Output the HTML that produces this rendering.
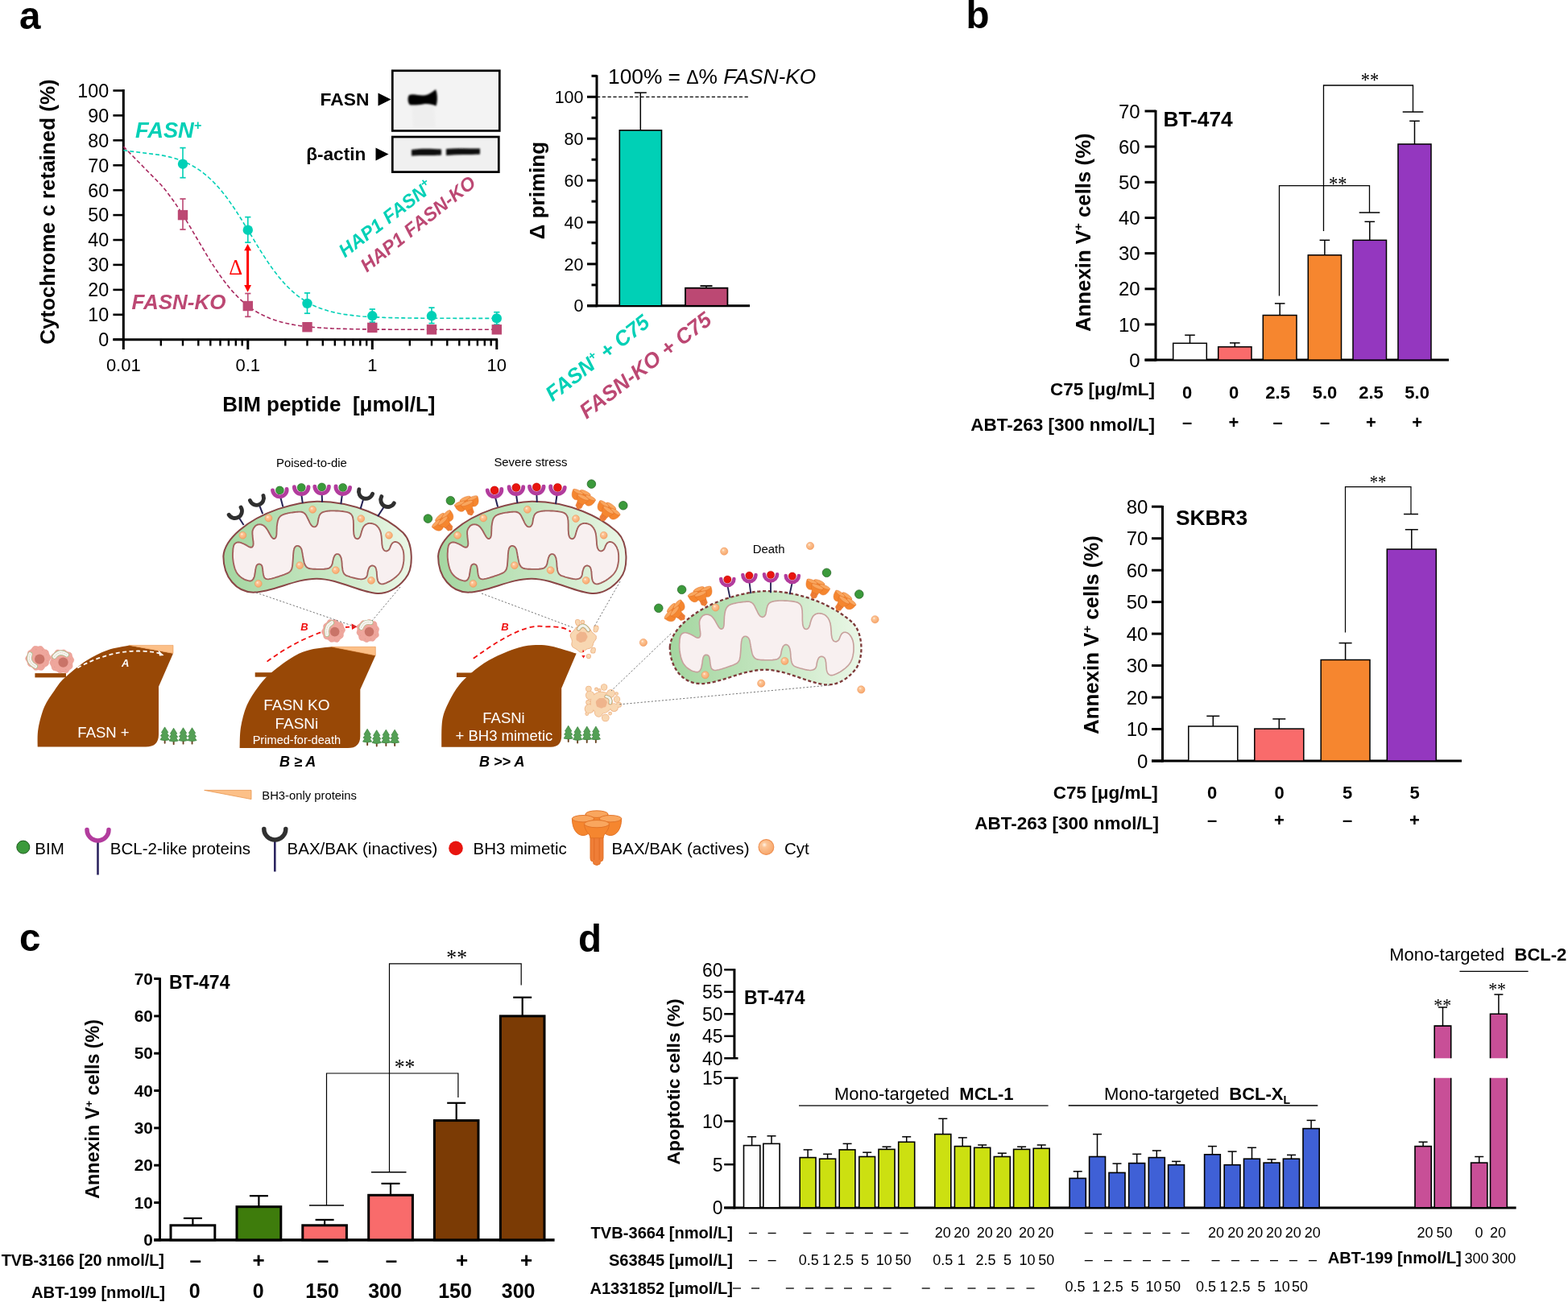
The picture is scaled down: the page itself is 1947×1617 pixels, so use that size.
<!DOCTYPE html>
<html><head><meta charset="utf-8"><title>Figure</title>
<style>html,body{margin:0;padding:0;background:#fff;}svg{display:block;}</style></head>
<body><svg width="1947" height="1617" viewBox="0 0 1947 1617" font-family="'Liberation Sans', Arial, sans-serif">
<rect width="1947" height="1617" fill="#fff"/>
<defs>
<linearGradient id="mg" x1="0" y1="0" x2="1" y2="0"><stop offset="0" stop-color="#a6d7a2"/><stop offset="0.5" stop-color="#c4e6c0"/><stop offset="1" stop-color="#eaf7e6"/></linearGradient>
<radialGradient id="cyt" cx="0.38" cy="0.35" r="0.7"><stop offset="0" stop-color="#fff3e6"/><stop offset="0.25" stop-color="#fcc596"/><stop offset="1" stop-color="#f7a468"/></radialGradient>
</defs>
<path d="M46.7,926.9 C46.8,923.2 46.1,913.1 47.5,905.0 C48.9,896.9 51.6,886.0 55.0,878.0 C58.4,870.0 63.8,863.0 68.0,857.0 C72.2,851.0 73.6,848.1 80.1,842.1 C86.6,836.1 97.9,826.5 106.8,820.7 C115.7,814.9 124.6,810.6 133.5,807.4 C142.4,804.2 155.8,802.4 160.3,801.4 L215,811.4 L197,852.8 L197,912 Q197,927.6 181,927.6 L46.7,927.6 Z" fill="#984806" stroke="none" stroke-width="1"/>
<rect x="43.4" y="836.1" width="38.6" height="5.2999999999999545" fill="#984806"/>
<path d="M297.6,929.1 C297.8,924.8 297.5,912.1 299.0,903.3 C300.5,894.4 302.9,884.4 306.5,876.0 C310.1,867.6 315.6,859.7 320.7,852.9 C325.8,846.1 329.6,841.6 337.1,835.2 C344.6,828.9 357.5,819.5 365.6,814.8 C373.8,810.0 378.3,808.6 386.0,806.7 C393.7,804.8 407.6,803.9 411.9,803.3 L466.3,814.1 L447.3,856.3 L447.3,914 Q447.3,929.1 432,929.1 L297.6,929.1 Z" fill="#984806" stroke="none" stroke-width="1"/>
<rect x="316.7" y="835.2" width="22.30000000000001" height="5.5" fill="#984806"/>
<path d="M548.2,927.7 C548.4,922.1 547.7,903.6 549.3,894.1 C550.9,884.6 554.2,878.2 557.7,871.0 C561.2,863.8 565.4,856.9 570.0,851.0 C574.6,845.1 579.3,840.6 585.5,835.5 C591.7,830.4 598.3,825.0 607.0,820.1 C615.7,815.2 628.9,809.4 637.9,806.3 C646.9,803.2 653.3,801.9 661.0,801.3 C668.7,800.6 675.0,800.7 684.1,802.4 C693.2,804.1 710.4,810.1 715.7,811.6 L697.2,854.8 L697.2,914 Q697.2,927.7 684,927.7 L548.2,927.7 Z" fill="#984806" stroke="none" stroke-width="1"/>
<rect x="567" y="835.5" width="21" height="5.5" fill="#984806"/>
<path d="M160.3,801.4 L215,801.4 L215,811.4 Z" fill="#fcc088" stroke="#e8944c" stroke-width="0.6"/>
<path d="M411.9,803.3 L466.3,803.3 L466.3,814.1 Z" fill="#fcc088" stroke="#e8944c" stroke-width="0.6"/>
<path d="M253.7,981.4 L312,981.4 L312,992.6 Z" fill="#fcc088" stroke="#e8944c" stroke-width="0.8"/>
<text x="325.3" y="993.4" font-size="14.8">BH3-only proteins</text>
<rect x="203.7" y="918.2" width="1.9" height="5.5" rx="0.9" fill="#6a4424"/>
<path d="M204.6,902.9 L208.8,909.7 L207.3,910.5 L209.7,913.9 L207.8,915.0 L210.2,918.7 Q204.6,920.6 199.0,918.7 L201.4,915.0 L199.5,913.9 L201.9,910.5 L200.4,909.7 Z" fill="#54a055" stroke="#3d8440" stroke-width="0.75" stroke-linejoin="round"/>
<rect x="214.7" y="919.6" width="1.9" height="5.5" rx="0.9" fill="#6a4424"/>
<path d="M215.6,904.3 L219.8,911.1 L218.3,911.9 L220.7,915.3 L218.8,916.4 L221.2,920.1 Q215.6,922.0 210.0,920.1 L212.4,916.4 L210.5,915.3 L212.9,911.9 L211.4,911.1 Z" fill="#54a055" stroke="#3d8440" stroke-width="0.75" stroke-linejoin="round"/>
<rect x="226.6" y="919.1" width="1.9" height="5.5" rx="0.9" fill="#6a4424"/>
<path d="M227.5,903.8 L231.7,910.6 L230.2,911.4 L232.6,914.8 L230.7,915.9 L233.1,919.6 Q227.5,921.5 221.9,919.6 L224.3,915.9 L222.4,914.8 L224.8,911.4 L223.3,910.6 Z" fill="#54a055" stroke="#3d8440" stroke-width="0.75" stroke-linejoin="round"/>
<rect x="237.6" y="919.1" width="1.9" height="5.5" rx="0.9" fill="#6a4424"/>
<path d="M238.5,903.8 L242.7,910.6 L241.2,911.4 L243.6,914.8 L241.7,915.9 L244.1,919.6 Q238.5,921.5 232.9,919.6 L235.3,915.9 L233.4,914.8 L235.8,911.4 L234.3,910.6 Z" fill="#54a055" stroke="#3d8440" stroke-width="0.75" stroke-linejoin="round"/>
<rect x="455.2" y="920.6" width="1.9" height="5.5" rx="0.9" fill="#6a4424"/>
<path d="M456.1,905.3 L460.3,912.1 L458.8,912.9 L461.2,916.3 L459.3,917.4 L461.7,921.1 Q456.1,923.0 450.5,921.1 L452.9,917.4 L451.0,916.3 L453.4,912.9 L451.9,912.1 Z" fill="#54a055" stroke="#3d8440" stroke-width="0.75" stroke-linejoin="round"/>
<rect x="466.8" y="922.0" width="1.9" height="5.5" rx="0.9" fill="#6a4424"/>
<path d="M467.7,906.7 L471.9,913.5 L470.4,914.3 L472.8,917.7 L470.9,918.8 L473.3,922.5 Q467.7,924.4 462.1,922.5 L464.5,918.8 L462.6,917.7 L465.0,914.3 L463.5,913.5 Z" fill="#54a055" stroke="#3d8440" stroke-width="0.75" stroke-linejoin="round"/>
<rect x="478.4" y="921.5" width="1.9" height="5.5" rx="0.9" fill="#6a4424"/>
<path d="M479.3,906.2 L483.5,913.0 L482.0,913.8 L484.4,917.2 L482.5,918.3 L484.9,922.0 Q479.3,923.9 473.7,922.0 L476.1,918.3 L474.2,917.2 L476.6,913.8 L475.1,913.0 Z" fill="#54a055" stroke="#3d8440" stroke-width="0.75" stroke-linejoin="round"/>
<rect x="489.2" y="921.5" width="1.9" height="5.5" rx="0.9" fill="#6a4424"/>
<path d="M490.1,906.2 L494.3,913.0 L492.8,913.8 L495.2,917.2 L493.3,918.3 L495.7,922.0 Q490.1,923.9 484.5,922.0 L486.9,918.3 L485.0,917.2 L487.4,913.8 L485.9,913.0 Z" fill="#54a055" stroke="#3d8440" stroke-width="0.75" stroke-linejoin="round"/>
<rect x="704.8" y="916.5" width="1.9" height="5.5" rx="0.9" fill="#6a4424"/>
<path d="M705.7,901.2 L709.9,908.0 L708.4,908.9 L710.8,912.2 L708.9,913.3 L711.3,917.0 Q705.7,918.9 700.1,917.0 L702.5,913.3 L700.6,912.2 L703.0,908.9 L701.5,908.0 Z" fill="#54a055" stroke="#3d8440" stroke-width="0.75" stroke-linejoin="round"/>
<rect x="716.2" y="917.9" width="1.9" height="5.5" rx="0.9" fill="#6a4424"/>
<path d="M717.2,902.6 L721.4,909.4 L719.9,910.2 L722.3,913.6 L720.4,914.7 L722.8,918.4 Q717.2,920.3 711.6,918.4 L714.0,914.7 L712.1,913.6 L714.5,910.2 L713.0,909.4 Z" fill="#54a055" stroke="#3d8440" stroke-width="0.75" stroke-linejoin="round"/>
<rect x="727.8" y="917.4" width="1.9" height="5.5" rx="0.9" fill="#6a4424"/>
<path d="M728.8,902.1 L733.0,908.9 L731.5,909.8 L733.9,913.1 L732.0,914.2 L734.4,917.9 Q728.8,919.8 723.2,917.9 L725.6,914.2 L723.7,913.1 L726.1,909.8 L724.6,908.9 Z" fill="#54a055" stroke="#3d8440" stroke-width="0.75" stroke-linejoin="round"/>
<rect x="738.9" y="917.4" width="1.9" height="5.5" rx="0.9" fill="#6a4424"/>
<path d="M739.9,902.1 L744.1,908.9 L742.6,909.8 L745.0,913.1 L743.1,914.2 L745.5,917.9 Q739.9,919.8 734.3,917.9 L736.7,914.2 L734.8,913.1 L737.2,909.8 L735.7,908.9 Z" fill="#54a055" stroke="#3d8440" stroke-width="0.75" stroke-linejoin="round"/>
<path d="M63.1,817.4 C63.0,818.2 62.3,819.0 61.9,819.7 C61.5,820.4 60.9,821.0 60.7,821.7 C60.4,822.4 60.6,823.3 60.4,824.0 C60.2,824.7 59.9,825.6 59.4,826.2 C59.0,826.7 58.0,827.0 57.4,827.4 C56.8,827.8 56.1,828.1 55.6,828.7 C55.1,829.2 54.8,830.2 54.2,830.8 C53.7,831.4 53.0,832.1 52.2,832.3 C51.5,832.5 50.5,832.2 49.7,832.2 C48.9,832.1 48.2,831.8 47.4,831.8 C46.6,831.8 45.8,832.3 45.0,832.3 C44.3,832.3 43.4,832.2 42.7,831.9 C42.0,831.5 41.5,830.6 41.0,830.0 C40.4,829.4 40.0,828.8 39.4,828.4 C38.7,828.0 37.8,828.0 37.1,827.7 C36.4,827.3 35.6,826.9 35.1,826.3 C34.7,825.7 34.6,824.8 34.4,824.0 C34.1,823.3 34.0,822.6 33.7,821.9 C33.3,821.1 32.6,820.5 32.3,819.8 C31.9,819.1 31.6,818.2 31.7,817.4 C31.8,816.6 32.5,815.8 32.9,815.1 C33.3,814.4 33.9,813.8 34.1,813.1 C34.4,812.4 34.2,811.5 34.4,810.8 C34.6,810.1 34.9,809.2 35.4,808.6 C35.8,808.1 36.8,807.8 37.4,807.4 C38.0,807.0 38.7,806.7 39.2,806.1 C39.7,805.6 40.0,804.6 40.6,804.0 C41.1,803.4 41.8,802.7 42.6,802.5 C43.3,802.3 44.3,802.6 45.1,802.6 C45.9,802.7 46.6,803.0 47.4,803.0 C48.2,803.0 49.0,802.5 49.8,802.5 C50.5,802.5 51.4,802.6 52.1,802.9 C52.8,803.3 53.3,804.2 53.8,804.8 C54.4,805.4 54.8,806.0 55.4,806.4 C56.1,806.8 57.0,806.8 57.7,807.1 C58.4,807.5 59.2,807.9 59.7,808.5 C60.1,809.1 60.2,810.0 60.4,810.8 C60.7,811.5 60.8,812.2 61.1,812.9 C61.5,813.7 62.2,814.3 62.5,815.0 C62.9,815.7 63.2,816.6 63.1,817.4 Z" fill="#eea69c" stroke="#e8998f" stroke-width="0.6"/>
<circle cx="58.4" cy="820.8" r="0.45" fill="#d98a80"/>
<circle cx="53.6" cy="827.0" r="0.45" fill="#d98a80"/>
<circle cx="46.0" cy="828.8" r="0.45" fill="#d98a80"/>
<circle cx="39.0" cy="825.2" r="0.45" fill="#d98a80"/>
<circle cx="35.9" cy="818.0" r="0.45" fill="#d98a80"/>
<circle cx="38.3" cy="810.5" r="0.45" fill="#d98a80"/>
<circle cx="44.9" cy="806.2" r="0.45" fill="#d98a80"/>
<circle cx="52.6" cy="807.2" r="0.45" fill="#d98a80"/>
<circle cx="58.0" cy="813.0" r="0.45" fill="#d98a80"/>
<circle cx="49.2" cy="818.6" r="6.2" fill="#c97468"/>
<path d="M37.5,812.5 Q33.5,822.0 44.0,827.5" fill="none" stroke="#98c888" stroke-width="5.8" stroke-linecap="round"/>
<path d="M37.5,812.5 Q33.5,822.0 44.0,827.5" fill="none" stroke="#fbf1f3" stroke-width="4.6" stroke-linecap="round"/>
<path d="M37.5,812.5 Q33.5,822.0 44.0,827.5" fill="none" stroke="#d9e8c9" stroke-width="1.1" stroke-dasharray="1.2,1.6" stroke-linecap="round"/>
<path d="M91.3,821.4 C91.1,822.1 90.4,822.8 90.1,823.5 C89.9,824.2 89.9,824.9 89.9,825.7 C89.9,826.4 90.2,827.4 90.0,828.1 C89.8,828.9 89.3,829.5 88.8,830.1 C88.2,830.6 87.4,830.9 86.8,831.4 C86.3,831.9 85.9,832.6 85.4,833.2 C84.9,833.9 84.5,834.8 83.8,835.2 C83.2,835.6 82.3,835.7 81.5,835.7 C80.6,835.7 79.8,835.2 79.0,835.1 C78.2,835.1 77.5,835.2 76.8,835.3 C76.1,835.5 75.2,835.9 74.5,835.9 C73.8,835.8 73.0,835.5 72.4,835.1 C71.7,834.7 71.2,833.9 70.6,833.6 C69.9,833.2 69.2,833.1 68.5,832.9 C67.7,832.7 66.6,832.7 66.0,832.2 C65.3,831.8 64.8,831.1 64.5,830.3 C64.2,829.6 64.3,828.7 64.0,827.9 C63.8,827.2 63.4,826.6 63.0,825.9 C62.7,825.2 62.0,824.5 61.9,823.8 C61.8,823.0 62.0,822.1 62.3,821.4 C62.5,820.7 63.2,820.0 63.5,819.3 C63.7,818.6 63.7,817.9 63.7,817.1 C63.7,816.4 63.4,815.4 63.6,814.7 C63.8,813.9 64.3,813.3 64.8,812.7 C65.4,812.2 66.2,811.9 66.8,811.4 C67.3,810.9 67.7,810.2 68.2,809.6 C68.7,808.9 69.1,808.0 69.8,807.6 C70.4,807.2 71.3,807.1 72.1,807.1 C73.0,807.1 73.8,807.6 74.6,807.7 C75.4,807.7 76.1,807.6 76.8,807.5 C77.5,807.3 78.4,806.9 79.1,806.9 C79.8,807.0 80.6,807.3 81.2,807.7 C81.9,808.1 82.4,808.9 83.0,809.2 C83.7,809.6 84.4,809.7 85.1,809.9 C85.9,810.1 87.0,810.1 87.6,810.6 C88.3,811.0 88.8,811.7 89.1,812.5 C89.4,813.2 89.3,814.1 89.6,814.9 C89.8,815.6 90.2,816.2 90.6,816.9 C90.9,817.6 91.6,818.3 91.7,819.0 C91.8,819.8 91.6,820.7 91.3,821.4 Z" fill="#eea69c" stroke="#e8998f" stroke-width="0.6"/>
<circle cx="81.9" cy="831.5" r="0.45" fill="#d98a80"/>
<circle cx="74.3" cy="832.4" r="0.45" fill="#d98a80"/>
<circle cx="67.8" cy="828.2" r="0.45" fill="#d98a80"/>
<circle cx="65.5" cy="820.8" r="0.45" fill="#d98a80"/>
<circle cx="68.5" cy="813.7" r="0.45" fill="#d98a80"/>
<circle cx="75.4" cy="810.2" r="0.45" fill="#d98a80"/>
<circle cx="83.0" cy="811.9" r="0.45" fill="#d98a80"/>
<circle cx="87.6" cy="818.1" r="0.45" fill="#d98a80"/>
<circle cx="87.2" cy="825.8" r="0.45" fill="#d98a80"/>
<circle cx="78.5" cy="822.6" r="6.1" fill="#c97468"/>
<path d="M67.5,815.5 Q74.0,807.0 82.8,813.2" fill="none" stroke="#98c888" stroke-width="5.8" stroke-linecap="round"/>
<path d="M67.5,815.5 Q74.0,807.0 82.8,813.2" fill="none" stroke="#fbf1f3" stroke-width="4.6" stroke-linecap="round"/>
<path d="M67.5,815.5 Q74.0,807.0 82.8,813.2" fill="none" stroke="#d9e8c9" stroke-width="1.1" stroke-dasharray="1.2,1.6" stroke-linecap="round"/>
<path d="M428.3,783.5 C428.1,784.2 427.4,784.9 427.1,785.6 C426.7,786.2 426.5,786.8 426.3,787.5 C426.2,788.2 426.5,789.1 426.3,789.8 C426.1,790.5 425.8,791.2 425.3,791.7 C424.8,792.2 424.0,792.5 423.4,792.9 C422.9,793.4 422.4,793.8 421.9,794.4 C421.5,795.0 421.2,796.0 420.6,796.5 C420.0,797.0 419.3,797.4 418.5,797.5 C417.8,797.6 416.9,797.1 416.1,797.0 C415.4,796.9 414.7,796.8 414.0,796.9 C413.3,796.9 412.5,797.4 411.8,797.3 C411.1,797.3 410.3,797.1 409.7,796.7 C409.1,796.3 408.7,795.5 408.1,795.1 C407.5,794.6 407.0,794.3 406.3,794.0 C405.7,793.8 404.7,793.8 404.0,793.5 C403.3,793.2 402.7,792.6 402.3,792.0 C401.9,791.4 402.0,790.5 401.7,789.7 C401.5,789.0 401.3,788.4 400.9,787.7 C400.6,787.1 399.9,786.5 399.7,785.8 C399.5,785.1 399.4,784.2 399.7,783.5 C399.9,782.8 400.6,782.1 400.9,781.4 C401.3,780.8 401.5,780.2 401.7,779.5 C401.8,778.8 401.5,777.9 401.7,777.2 C401.9,776.5 402.2,775.8 402.7,775.3 C403.2,774.8 404.0,774.5 404.6,774.1 C405.1,773.6 405.6,773.2 406.1,772.6 C406.5,772.0 406.8,771.0 407.4,770.5 C408.0,770.0 408.7,769.6 409.5,769.5 C410.2,769.4 411.1,769.9 411.9,770.0 C412.6,770.1 413.3,770.2 414.0,770.1 C414.7,770.1 415.5,769.6 416.2,769.7 C416.9,769.7 417.7,769.9 418.3,770.3 C418.9,770.7 419.3,771.5 419.9,771.9 C420.5,772.4 421.0,772.7 421.7,773.0 C422.3,773.2 423.3,773.2 424.0,773.5 C424.7,773.8 425.3,774.4 425.7,775.0 C426.1,775.6 426.0,776.5 426.3,777.3 C426.5,778.0 426.7,778.6 427.1,779.3 C427.4,779.9 428.1,780.5 428.3,781.2 C428.5,781.9 428.6,782.8 428.3,783.5 Z" fill="#eea69c" stroke="#e8998f" stroke-width="0.6"/>
<circle cx="422.2" cy="790.4" r="0.45" fill="#d98a80"/>
<circle cx="415.8" cy="794.1" r="0.45" fill="#d98a80"/>
<circle cx="408.6" cy="792.8" r="0.45" fill="#d98a80"/>
<circle cx="403.9" cy="787.2" r="0.45" fill="#d98a80"/>
<circle cx="403.9" cy="779.8" r="0.45" fill="#d98a80"/>
<circle cx="408.6" cy="774.2" r="0.45" fill="#d98a80"/>
<circle cx="415.9" cy="772.9" r="0.45" fill="#d98a80"/>
<circle cx="422.3" cy="776.6" r="0.45" fill="#d98a80"/>
<circle cx="424.8" cy="783.5" r="0.45" fill="#d98a80"/>
<circle cx="415.7" cy="784.6" r="5.8" fill="#c97468"/>
<path d="M406.0,788.0 Q404.0,778.0 412.0,773.5" fill="none" stroke="#98c888" stroke-width="5.8" stroke-linecap="round"/>
<path d="M406.0,788.0 Q404.0,778.0 412.0,773.5" fill="none" stroke="#fbf1f3" stroke-width="4.6" stroke-linecap="round"/>
<path d="M406.0,788.0 Q404.0,778.0 412.0,773.5" fill="none" stroke="#d9e8c9" stroke-width="1.1" stroke-dasharray="1.2,1.6" stroke-linecap="round"/>
<path d="M470.1,783.5 C469.9,784.2 469.7,784.8 469.7,785.5 C469.8,786.3 470.2,787.1 470.2,787.9 C470.3,788.6 470.3,789.5 469.9,790.2 C469.6,790.8 468.7,791.3 468.1,791.7 C467.5,792.2 466.9,792.5 466.4,793.1 C465.9,793.6 465.6,794.4 465.1,794.9 C464.6,795.4 464.0,796.0 463.3,796.2 C462.6,796.4 461.6,796.1 460.9,796.1 C460.2,796.1 459.5,796.0 458.8,796.1 C458.1,796.3 457.5,796.9 456.8,797.2 C456.1,797.4 455.3,797.7 454.6,797.6 C453.9,797.5 453.2,796.9 452.6,796.6 C451.9,796.2 451.4,795.8 450.6,795.6 C449.9,795.3 449.0,795.4 448.3,795.2 C447.6,794.9 446.8,794.5 446.4,793.9 C446.0,793.3 445.9,792.3 445.7,791.6 C445.5,790.8 445.5,790.1 445.2,789.4 C444.8,788.8 444.2,788.3 443.8,787.7 C443.5,787.1 443.0,786.4 443.0,785.7 C443.0,785.0 443.4,784.2 443.5,783.5 C443.7,782.8 443.9,782.2 443.9,781.5 C443.8,780.7 443.4,779.9 443.4,779.1 C443.3,778.4 443.3,777.5 443.7,776.8 C444.0,776.2 444.9,775.7 445.5,775.3 C446.1,774.8 446.7,774.5 447.2,773.9 C447.7,773.4 448.0,772.6 448.5,772.1 C449.0,771.6 449.6,771.0 450.3,770.8 C451.0,770.6 452.0,770.9 452.7,770.9 C453.4,770.9 454.1,771.0 454.8,770.9 C455.5,770.7 456.1,770.1 456.8,769.8 C457.5,769.6 458.3,769.3 459.0,769.4 C459.7,769.5 460.4,770.1 461.0,770.4 C461.7,770.8 462.2,771.2 463.0,771.4 C463.7,771.7 464.6,771.6 465.3,771.8 C466.0,772.1 466.8,772.5 467.2,773.1 C467.6,773.7 467.7,774.7 467.9,775.4 C468.1,776.2 468.1,776.9 468.4,777.6 C468.8,778.2 469.4,778.7 469.8,779.3 C470.1,779.9 470.6,780.6 470.6,781.3 C470.6,782.0 470.2,782.8 470.1,783.5 Z" fill="#eea69c" stroke="#e8998f" stroke-width="0.6"/>
<circle cx="453.3" cy="793.7" r="0.45" fill="#d98a80"/>
<circle cx="447.6" cy="789.1" r="0.45" fill="#d98a80"/>
<circle cx="446.2" cy="781.8" r="0.45" fill="#d98a80"/>
<circle cx="449.7" cy="775.4" r="0.45" fill="#d98a80"/>
<circle cx="456.6" cy="772.7" r="0.45" fill="#d98a80"/>
<circle cx="463.6" cy="775.1" r="0.45" fill="#d98a80"/>
<circle cx="467.4" cy="781.4" r="0.45" fill="#d98a80"/>
<circle cx="466.2" cy="788.7" r="0.45" fill="#d98a80"/>
<circle cx="460.7" cy="793.5" r="0.45" fill="#d98a80"/>
<circle cx="458.5" cy="784.6" r="5.8" fill="#c97468"/>
<path d="M448.5,779.5 Q452.0,771.0 460.5,773.0" fill="none" stroke="#98c888" stroke-width="5.8" stroke-linecap="round"/>
<path d="M448.5,779.5 Q452.0,771.0 460.5,773.0" fill="none" stroke="#fbf1f3" stroke-width="4.6" stroke-linecap="round"/>
<path d="M448.5,779.5 Q452.0,771.0 460.5,773.0" fill="none" stroke="#d9e8c9" stroke-width="1.1" stroke-dasharray="1.2,1.6" stroke-linecap="round"/>
<path d="M740.1,793.5 C739.7,794.7 738.4,795.7 737.8,796.8 C737.2,797.8 736.8,798.7 736.5,799.7 C736.1,800.8 736.1,802.2 735.5,803.1 C734.9,804.0 733.8,804.7 732.8,805.1 C731.8,805.6 730.4,805.4 729.4,805.8 C728.4,806.2 727.7,806.9 726.7,807.6 C725.7,808.3 724.7,809.7 723.5,810.0 C722.3,810.4 720.9,810.2 719.8,809.7 C718.7,809.2 717.9,807.9 716.9,807.2 C716.0,806.5 715.0,806.0 714.1,805.3 C713.1,804.7 711.7,804.4 711.0,803.5 C710.2,802.6 709.9,801.3 709.8,800.1 C709.7,798.9 710.5,797.6 710.4,796.5 C710.4,795.4 710.1,794.6 709.7,793.5 C709.3,792.4 708.3,791.2 708.2,790.0 C708.1,788.8 708.5,787.5 709.1,786.5 C709.7,785.6 710.9,785.0 711.7,784.1 C712.5,783.3 713.1,782.3 713.8,781.4 C714.6,780.4 715.2,778.9 716.2,778.4 C717.2,777.8 718.7,777.8 720.0,778.0 C721.2,778.2 722.4,779.3 723.5,779.6 C724.6,780.0 725.5,780.0 726.6,780.1 C727.7,780.1 729.0,779.5 730.1,779.8 C731.2,780.0 732.2,780.8 733.0,781.6 C733.8,782.4 734.0,783.7 734.7,784.6 C735.4,785.4 736.3,786.0 737.2,786.9 C738.1,787.8 739.6,788.6 740.1,789.7 C740.5,790.8 740.5,792.3 740.1,793.5 Z" fill="#f8d7b2" stroke="#efb587" stroke-width="1.0"/>
<circle cx="717.2" cy="772.2" r="3.2" fill="#efb587"/><circle cx="717.6" cy="774.5" r="2.8" fill="#efb587"/><circle cx="723.4" cy="772.5" r="2.7" fill="#efb587"/><circle cx="740.2" cy="780.0" r="3.4" fill="#efb587"/><circle cx="739.5" cy="782.5" r="3.0" fill="#efb587"/><circle cx="736.3" cy="808.4" r="3.2" fill="#efb587"/><circle cx="737.0" cy="806.5" r="2.8" fill="#efb587"/><circle cx="730.9" cy="815.1" r="3.1" fill="#efb587"/><circle cx="717.2" cy="772.2" r="2.4" fill="#f8d7b2"/><circle cx="717.6" cy="774.5" r="2.0" fill="#f8d7b2"/><circle cx="723.4" cy="772.5" r="1.9" fill="#f8d7b2"/><circle cx="740.2" cy="780.0" r="2.6" fill="#f8d7b2"/><circle cx="739.5" cy="782.5" r="2.2" fill="#f8d7b2"/><circle cx="736.3" cy="808.4" r="2.4" fill="#f8d7b2"/><circle cx="737.0" cy="806.5" r="2.0" fill="#f8d7b2"/><circle cx="730.9" cy="815.1" r="2.3" fill="#f8d7b2"/>
<path d="M729.5,791.2 C729.5,791.7 729.1,792.2 728.9,792.7 C728.6,793.2 728.3,793.6 728.1,794.0 C727.9,794.4 727.8,794.9 727.5,795.3 C727.2,795.8 726.9,796.2 726.5,796.5 C726.1,796.7 725.5,796.8 725.1,796.9 C724.6,797.1 724.2,797.1 723.7,797.3 C723.2,797.5 722.8,797.8 722.3,797.9 C721.8,798.0 721.2,798.1 720.7,798.0 C720.2,798.0 719.8,797.6 719.3,797.4 C718.9,797.1 718.5,796.8 718.1,796.5 C717.6,796.2 717.1,796.0 716.7,795.7 C716.3,795.3 715.8,794.9 715.6,794.4 C715.4,793.9 715.5,793.3 715.5,792.8 C715.5,792.2 715.6,791.7 715.6,791.2 C715.6,790.7 715.5,790.2 715.6,789.7 C715.6,789.2 715.8,788.6 716.0,788.2 C716.3,787.8 716.8,787.5 717.2,787.2 C717.6,786.9 718.1,786.6 718.4,786.3 C718.8,786.0 719.1,785.6 719.5,785.3 C719.9,785.0 720.3,784.7 720.8,784.6 C721.3,784.5 721.8,784.6 722.3,784.7 C722.8,784.7 723.2,784.8 723.7,784.9 C724.3,784.9 724.8,784.8 725.3,784.9 C725.8,785.0 726.4,785.2 726.9,785.5 C727.3,785.8 727.5,786.4 727.8,786.8 C728.1,787.3 728.2,787.8 728.5,788.2 C728.7,788.7 729.1,789.1 729.3,789.6 C729.5,790.1 729.6,790.7 729.5,791.2 Z" fill="#efb48c" stroke="none" stroke-width="1"/>
<path d="M718.5,781.0 Q724.0,772.5 730.5,782.5" fill="none" stroke="#e0906a" stroke-width="5.2" stroke-linecap="round"/>
<path d="M718.5,781.0 Q724.0,772.5 730.5,782.5" fill="none" stroke="#a8cf98" stroke-width="4.2" stroke-linecap="round"/>
<path d="M718.5,781.0 Q724.0,772.5 730.5,782.5" fill="none" stroke="#fbf3f5" stroke-width="3.0" stroke-linecap="round"/>
<path d="M718.5,781.0 Q724.0,772.5 730.5,782.5" fill="none" stroke="#cfe3c3" stroke-width="0.9" stroke-dasharray="1,1.5"/>
<circle cx="746.8" cy="872.7" r="14.0" fill="#efb587"/><circle cx="732.6" cy="863.5" r="5.6" fill="#efb587"/><circle cx="758.5" cy="861.2" r="5.3" fill="#efb587"/><circle cx="731.7" cy="880.2" r="6.0" fill="#efb587"/><circle cx="743.4" cy="885.3" r="5.4" fill="#efb587"/><circle cx="762.5" cy="878.6" r="5.4" fill="#efb587"/><circle cx="751.8" cy="891.5" r="4.8" fill="#efb587"/><circle cx="730.9" cy="855.6" r="3.8" fill="#efb587"/><circle cx="750.1" cy="853.5" r="4.2" fill="#efb587"/><circle cx="740.5" cy="856.0" r="2.4" fill="#efb587"/><circle cx="744.3" cy="857.3" r="2.2" fill="#efb587"/><circle cx="766.0" cy="868.5" r="4.2" fill="#efb587"/><circle cx="765.6" cy="861.5" r="2.3" fill="#efb587"/><circle cx="768.5" cy="875.2" r="3.5" fill="#efb587"/><circle cx="730.5" cy="872.3" r="3.2" fill="#efb587"/><circle cx="728.8" cy="886.5" r="2.4" fill="#efb587"/><circle cx="757.6" cy="886.1" r="2.4" fill="#efb587"/><circle cx="739.7" cy="882.7" r="2.2" fill="#efb587"/><circle cx="746.8" cy="872.7" r="13.2" fill="#f8d7b2"/><circle cx="732.6" cy="863.5" r="4.8" fill="#f8d7b2"/><circle cx="758.5" cy="861.2" r="4.5" fill="#f8d7b2"/><circle cx="731.7" cy="880.2" r="5.2" fill="#f8d7b2"/><circle cx="743.4" cy="885.3" r="4.6" fill="#f8d7b2"/><circle cx="762.5" cy="878.6" r="4.6" fill="#f8d7b2"/><circle cx="751.8" cy="891.5" r="4.0" fill="#f8d7b2"/><circle cx="730.9" cy="855.6" r="3.0" fill="#f8d7b2"/><circle cx="750.1" cy="853.5" r="3.4" fill="#f8d7b2"/><circle cx="740.5" cy="856.0" r="1.6" fill="#f8d7b2"/><circle cx="744.3" cy="857.3" r="1.4" fill="#f8d7b2"/><circle cx="766.0" cy="868.5" r="3.4" fill="#f8d7b2"/><circle cx="765.6" cy="861.5" r="1.5" fill="#f8d7b2"/><circle cx="768.5" cy="875.2" r="2.7" fill="#f8d7b2"/><circle cx="730.5" cy="872.3" r="2.4" fill="#f8d7b2"/><circle cx="728.8" cy="886.5" r="1.6" fill="#f8d7b2"/><circle cx="757.6" cy="886.1" r="1.6" fill="#f8d7b2"/><circle cx="739.7" cy="882.7" r="1.4" fill="#f8d7b2"/>
<path d="M753.8,873.1 C753.7,873.6 753.4,874.1 753.2,874.6 C753.1,875.1 753.0,875.5 752.8,876.0 C752.6,876.5 752.5,877.0 752.2,877.4 C751.8,877.7 751.3,878.0 750.9,878.2 C750.4,878.4 749.9,878.4 749.4,878.6 C749.0,878.7 748.6,879.0 748.2,879.2 C747.7,879.3 747.3,879.6 746.8,879.6 C746.3,879.7 745.8,879.5 745.4,879.3 C744.9,879.2 744.6,878.9 744.1,878.7 C743.7,878.5 743.2,878.4 742.7,878.2 C742.3,878.0 741.7,877.8 741.3,877.5 C741.0,877.1 740.7,876.6 740.6,876.1 C740.4,875.6 740.4,875.1 740.3,874.6 C740.2,874.1 740.0,873.6 739.9,873.1 C739.9,872.6 739.7,872.0 739.9,871.5 C740.0,871.0 740.3,870.5 740.7,870.1 C741.0,869.7 741.5,869.5 741.8,869.1 C742.2,868.8 742.5,868.4 742.8,868.1 C743.2,867.8 743.5,867.4 743.9,867.2 C744.4,867.0 744.9,866.9 745.4,866.9 C745.9,866.9 746.3,867.1 746.8,867.1 C747.3,867.1 747.7,867.0 748.2,867.0 C748.7,867.0 749.2,866.9 749.7,867.1 C750.2,867.2 750.6,867.6 751.0,867.9 C751.3,868.2 751.5,868.7 751.9,869.1 C752.2,869.4 752.6,869.7 752.9,870.2 C753.2,870.6 753.6,871.0 753.8,871.5 C753.9,872.0 753.9,872.6 753.8,873.1 Z" fill="#efb48c" stroke="none" stroke-width="1"/>
<path d="M752.8,865.0 Q759.5,866.5 757.8,873.0" fill="none" stroke="#e0906a" stroke-width="4.8" stroke-linecap="round"/>
<path d="M752.8,865.0 Q759.5,866.5 757.8,873.0" fill="none" stroke="#a8cf98" stroke-width="3.8" stroke-linecap="round"/>
<path d="M752.8,865.0 Q759.5,866.5 757.8,873.0" fill="none" stroke="#fbf3f5" stroke-width="2.6" stroke-linecap="round"/>
<path d="M752.8,865.0 Q759.5,866.5 757.8,873.0" fill="none" stroke="#cfe3c3" stroke-width="0.9" stroke-dasharray="1,1.5"/>
<path d="M96.2,829.4 Q150,800 201.7,812" fill="none" stroke="#fff" stroke-width="1.8" stroke-dasharray="5,3.5"/>
<path d="M203.5,814 L196.5,807.5 L198,814.5 Z" fill="#fff" stroke="none" stroke-width="1"/>
<text x="155.6" y="828.4" font-size="13" font-weight="bold" font-style="italic" text-anchor="middle" fill="#fff">A</text>
<path d="M331.6,821.6 Q365,797 399.7,784.9" fill="none" stroke="#f01010" stroke-width="1.8" stroke-dasharray="6,4"/>
<path d="M429,779 L438,778.5" fill="none" stroke="#f01010" stroke-width="1.8" stroke-dasharray="5,3"/>
<path d="M443.5,778.2 L436.5,774.5 L437,782 Z" fill="#f01010" stroke="none" stroke-width="1"/>
<text x="377.9" y="782.5" font-size="13" font-weight="bold" font-style="italic" text-anchor="middle" fill="#f01010">B</text>
<path d="M587.8,817.8 Q650,772 676.4,778.5 Q700,777 708.7,784.7" fill="none" stroke="#f01010" stroke-width="1.8" stroke-dasharray="6,4"/>
<path d="M724.2,807.6 L724.2,809.9" fill="none" stroke="#f01010" stroke-width="1.5"/>
<path d="M724.5,817.6 L722.3,813.9 L726.7,813.9 Z" fill="#f01010" stroke="none" stroke-width="1"/>
<text x="627.0" y="783.0" font-size="13" font-weight="bold" font-style="italic" text-anchor="middle" fill="#f01010">B</text>
<text x="128.5" y="915.6" font-size="18.5" text-anchor="middle" fill="#fff">FASN +</text>
<text x="368.4" y="881.5" font-size="19" text-anchor="middle" fill="#fff">FASN KO</text>
<text x="368.4" y="905.3" font-size="19" text-anchor="middle" fill="#fff">FASNi</text>
<text x="368.4" y="924.4" font-size="14.6" text-anchor="middle" fill="#fff">Primed-for-death</text>
<text x="369.7" y="951.6" font-size="18" font-weight="bold" font-style="italic" text-anchor="middle">B &#8805; A</text>
<text x="625.5" y="898.0" font-size="18.5" text-anchor="middle" fill="#fff">FASNi</text>
<text x="625.9" y="919.5" font-size="18.5" text-anchor="middle" fill="#fff">+ BH3 mimetic</text>
<text x="623.3" y="951.9" font-size="18" font-weight="bold" font-style="italic" text-anchor="middle">B &gt;&gt; A</text>
<text x="386.9" y="579.8" font-size="14.9" text-anchor="middle">Poised-to-die</text>
<text x="658.9" y="578.7" font-size="14.9" text-anchor="middle">Severe stress</text>
<text x="954.6" y="686.6" font-size="14.9" text-anchor="middle">Death</text>
<defs><linearGradient id="mgU" gradientUnits="userSpaceOnUse" x1="130" y1="0" x2="1885" y2="0"><stop offset="0" stop-color="#a4d6a0"/><stop offset="0.5" stop-color="#c3e5bf"/><stop offset="1" stop-color="#ebf7e7"/></linearGradient></defs>
<g transform="translate(260,560) scale(0.13355)"><path d="M130,980 C140,820 350,640 640,540 C800,490 900,472 1000,470 C1350,468 1650,620 1800,760 C1900,860 1900,1100 1820,1190 C1740,1290 1640,1330 1560,1325 C1400,1315 1200,1190 1000,1188 C800,1186 600,1310 420,1315 C250,1320 130,1170 130,980 Z" fill="url(#mgU)"/><path d="M217,956 L218,944 L219,932 L219,922 L220,912 L221,903 L223,896 L224,889 L225,883 L227,879 L229,874 L231,870 L234,866 L237,863 L240,860 L244,857 L249,855 L253,852 L258,851 L264,850 L270,850 L276,850 L282,851 L289,853 L296,855 L304,858 L311,861 L318,864 L324,867 L330,870 L336,873 L342,876 L347,879 L351,882 L356,885 L360,887 L365,890 L369,892 L373,893 L376,895 L380,896 L383,897 L386,897 L389,897 L392,896 L395,895 L398,894 L400,891 L402,889 L405,885 L406,881 L408,877 L408,871 L409,865 L409,858 L408,850 L408,842 L406,832 L405,823 L404,815 L403,806 L402,798 L402,789 L401,781 L400,774 L400,766 L400,759 L400,752 L401,745 L403,738 L405,732 L408,725 L411,719 L415,713 L419,708 L423,703 L427,698 L432,695 L436,691 L441,689 L446,687 L452,685 L457,684 L462,684 L467,683 L473,684 L478,684 L483,685 L488,687 L494,689 L499,691 L504,694 L509,698 L513,702 L518,706 L522,711 L526,716 L531,722 L535,728 L539,734 L543,740 L547,747 L550,753 L554,760 L558,767 L562,775 L566,781 L569,787 L573,793 L576,798 L579,802 L583,806 L586,810 L589,812 L592,814 L595,816 L598,816 L602,816 L605,816 L608,814 L611,812 L614,810 L617,806 L619,800 L621,794 L623,786 L624,778 L625,768 L625,756 L626,744 L626,732 L627,720 L627,708 L628,697 L630,686 L631,676 L633,666 L635,656 L637,647 L640,639 L643,631 L647,624 L651,618 L655,613 L660,608 L664,604 L670,600 L676,597 L682,594 L689,591 L696,588 L704,586 L712,583 L720,582 L729,580 L739,578 L749,576 L759,574 L770,573 L782,571 L794,569 L806,568 L818,567 L829,566 L838,566 L847,566 L855,567 L862,569 L868,571 L874,573 L879,576 L883,580 L888,584 L892,589 L897,595 L901,601 L904,607 L908,615 L911,622 L915,629 L918,636 L921,643 L925,649 L928,656 L931,663 L934,669 L937,675 L941,681 L944,686 L947,690 L951,694 L954,698 L958,701 L962,703 L966,705 L969,706 L973,707 L977,707 L981,706 L984,705 L988,703 L992,701 L995,697 L998,693 L1001,688 L1004,683 L1006,676 L1008,669 L1009,660 L1011,652 L1012,643 L1013,635 L1015,628 L1017,620 L1019,614 L1020,608 L1022,602 L1025,598 L1027,593 L1030,589 L1033,585 L1037,581 L1041,578 L1045,575 L1050,572 L1054,570 L1060,568 L1066,566 L1073,564 L1080,563 L1088,561 L1097,560 L1106,559 L1116,558 L1126,557 L1138,557 L1150,557 L1163,557 L1177,558 L1191,558 L1207,559 L1223,561 L1238,562 L1252,564 L1264,566 L1275,568 L1284,570 L1293,573 L1300,576 L1305,579 L1310,583 L1315,586 L1319,591 L1323,595 L1326,601 L1329,606 L1332,612 L1333,618 L1335,625 L1336,634 L1338,643 L1339,654 L1339,666 L1340,679 L1340,692 L1340,708 L1340,721 L1340,734 L1341,746 L1342,756 L1342,765 L1343,773 L1344,780 L1346,786 L1347,791 L1349,796 L1351,800 L1353,804 L1355,808 L1358,811 L1361,813 L1364,815 L1367,816 L1370,817 L1374,818 L1377,818 L1380,817 L1383,816 L1387,815 L1390,812 L1393,809 L1397,805 L1399,801 L1402,795 L1405,788 L1407,781 L1410,772 L1412,763 L1414,754 L1417,746 L1419,738 L1422,731 L1424,724 L1427,718 L1430,712 L1432,708 L1435,703 L1439,698 L1442,694 L1446,691 L1450,687 L1455,684 L1460,681 L1464,679 L1470,677 L1475,675 L1481,674 L1487,673 L1494,673 L1500,674 L1507,674 L1515,676 L1522,677 L1528,680 L1535,682 L1541,685 L1547,689 L1552,693 L1558,698 L1562,702 L1567,708 L1572,713 L1576,719 L1579,726 L1583,732 L1586,739 L1589,746 L1591,754 L1594,762 L1596,771 L1597,780 L1599,790 L1600,801 L1601,812 L1602,824 L1603,836 L1604,848 L1604,858 L1605,868 L1606,877 L1608,885 L1609,892 L1610,898 L1612,902 L1614,907 L1616,911 L1618,915 L1620,919 L1623,922 L1626,925 L1629,927 L1633,929 L1636,930 L1640,931 L1643,932 L1647,931 L1651,931 L1654,929 L1658,927 L1662,925 L1665,922 L1669,919 L1672,915 L1675,911 L1677,906 L1679,901 L1682,896 L1683,890 L1685,885 L1688,880 L1690,875 L1692,871 L1694,867 L1697,863 L1700,860 L1702,856 L1705,854 L1709,852 L1712,850 L1716,848 L1719,847 L1723,846 L1728,846 L1732,846 L1737,847 L1741,848 L1746,849 L1751,852 L1755,854 L1760,858 L1765,862 L1769,866 L1774,871 L1778,877 L1782,883 L1786,889 L1790,896 L1793,904 L1796,912 L1800,920 L1802,929 L1804,939 L1806,950 L1807,961 L1808,973 L1808,985 L1808,998 L1808,1012 L1807,1025 L1805,1038 L1803,1050 L1801,1062 L1798,1074 L1795,1085 L1791,1095 L1787,1105 L1782,1115 L1777,1124 L1771,1133 L1764,1142 L1757,1150 L1749,1158 L1740,1166 L1732,1174 L1722,1181 L1713,1188 L1704,1194 L1695,1201 L1685,1207 L1676,1212 L1666,1218 L1656,1222 L1647,1227 L1638,1230 L1630,1233 L1623,1236 L1616,1237 L1610,1238 L1604,1238 L1600,1238 L1595,1237 L1590,1235 L1586,1233 L1582,1231 L1579,1228 L1575,1224 L1572,1220 L1570,1216 L1567,1210 L1565,1204 L1563,1197 L1561,1189 L1560,1181 L1559,1171 L1558,1161 L1557,1149 L1556,1139 L1556,1130 L1555,1121 L1553,1113 L1552,1106 L1551,1100 L1549,1095 L1548,1091 L1546,1087 L1544,1083 L1542,1080 L1539,1077 L1536,1075 L1533,1073 L1530,1071 L1527,1069 L1523,1068 L1520,1067 L1517,1067 L1514,1067 L1510,1067 L1507,1068 L1504,1069 L1501,1070 L1498,1072 L1495,1074 L1492,1077 L1490,1079 L1488,1083 L1485,1086 L1483,1090 L1482,1095 L1480,1099 L1478,1105 L1476,1110 L1475,1116 L1474,1122 L1472,1129 L1471,1136 L1470,1144 L1469,1151 L1467,1157 L1465,1162 L1463,1168 L1460,1172 L1458,1176 L1455,1179 L1451,1181 L1448,1184 L1444,1186 L1440,1187 L1436,1189 L1432,1190 L1427,1191 L1422,1192 L1418,1193 L1412,1193 L1405,1193 L1397,1192 L1388,1191 L1378,1189 L1368,1187 L1356,1184 L1344,1181 L1332,1178 L1321,1175 L1311,1172 L1302,1169 L1293,1166 L1286,1164 L1279,1161 L1273,1159 L1268,1156 L1262,1152 L1258,1148 L1254,1144 L1250,1139 L1248,1134 L1245,1128 L1243,1122 L1241,1115 L1239,1108 L1238,1099 L1237,1091 L1235,1081 L1234,1071 L1233,1061 L1233,1049 L1232,1039 L1231,1029 L1230,1020 L1228,1012 L1227,1005 L1226,998 L1224,992 L1222,988 L1220,983 L1218,979 L1216,975 L1213,971 L1211,968 L1208,966 L1205,963 L1201,962 L1198,960 L1195,959 L1192,959 L1188,959 L1185,959 L1182,960 L1179,962 L1175,963 L1172,966 L1169,968 L1167,971 L1164,975 L1162,979 L1160,983 L1158,988 L1156,992 L1154,998 L1153,1003 L1151,1009 L1150,1016 L1148,1022 L1147,1029 L1146,1036 L1144,1044 L1143,1051 L1140,1057 L1138,1063 L1135,1069 L1131,1074 L1127,1079 L1122,1083 L1118,1087 L1111,1090 L1102,1093 L1092,1095 L1080,1097 L1067,1099 L1051,1100 L1034,1100 L1016,1100 L998,1100 L983,1099 L969,1099 L957,1098 L946,1096 L937,1095 L929,1093 L923,1092 L917,1089 L912,1086 L907,1083 L903,1079 L899,1075 L896,1070 L892,1065 L890,1060 L887,1054 L884,1047 L882,1040 L880,1032 L878,1023 L876,1014 L874,1005 L872,995 L870,985 L869,976 L867,967 L866,958 L864,950 L863,942 L861,934 L860,926 L858,919 L856,913 L853,907 L851,902 L847,898 L844,894 L840,890 L835,888 L831,885 L827,884 L823,883 L819,883 L815,883 L811,884 L807,885 L803,888 L800,890 L797,894 L794,898 L791,902 L789,907 L787,913 L786,919 L784,926 L783,934 L782,942 L781,952 L780,962 L779,973 L779,985 L778,998 L777,1012 L776,1025 L775,1037 L774,1048 L773,1059 L772,1069 L770,1078 L768,1086 L767,1094 L764,1101 L761,1107 L757,1113 L752,1119 L747,1124 L741,1129 L734,1133 L726,1137 L718,1141 L708,1145 L696,1150 L684,1154 L670,1159 L655,1164 L639,1170 L621,1175 L605,1180 L591,1184 L578,1188 L566,1190 L556,1192 L548,1193 L541,1193 L535,1192 L530,1191 L526,1189 L521,1187 L518,1184 L514,1181 L511,1177 L509,1172 L507,1168 L505,1162 L504,1157 L502,1151 L501,1144 L500,1138 L499,1131 L498,1124 L497,1116 L496,1109 L496,1103 L495,1097 L494,1091 L493,1086 L492,1081 L491,1077 L490,1073 L489,1070 L487,1067 L485,1064 L483,1061 L481,1059 L478,1057 L476,1056 L472,1054 L470,1053 L467,1053 L464,1052 L461,1052 L458,1053 L455,1053 L452,1054 L450,1056 L447,1057 L445,1059 L442,1061 L440,1064 L439,1067 L437,1070 L436,1073 L434,1077 L433,1081 L432,1087 L431,1093 L429,1100 L428,1107 L427,1116 L426,1125 L424,1135 L423,1144 L421,1153 L420,1161 L418,1168 L416,1174 L414,1180 L411,1185 L409,1190 L406,1194 L403,1197 L400,1200 L397,1203 L394,1205 L390,1207 L387,1208 L383,1209 L379,1209 L374,1209 L368,1208 L362,1207 L355,1205 L348,1203 L339,1200 L331,1197 L322,1193 L314,1188 L305,1183 L297,1177 L289,1171 L281,1164 L274,1157 L266,1148 L259,1139 L253,1130 L247,1119 L242,1107 L237,1095 L233,1082 L229,1068 L226,1052 L223,1038 L221,1023 L219,1009 L218,996 L217,982 L217,969 Z" fill="#f8f0f0" stroke="#a3605c" stroke-width="14"/><path d="M130,980 C140,820 350,640 640,540 C800,490 900,472 1000,470 C1350,468 1650,620 1800,760 C1900,860 1900,1100 1820,1190 C1740,1290 1640,1330 1560,1325 C1400,1315 1200,1190 1000,1188 C800,1186 600,1310 420,1315 C250,1320 130,1170 130,980 Z" fill="none" stroke="#8a4646" stroke-width="15"/></g>
<circle cx="388.2" cy="632.8" r="4.4" fill="url(#cyt)" stroke="#ef9152" stroke-width="0.53"/>
<circle cx="333.5" cy="643.5" r="4.4" fill="url(#cyt)" stroke="#ef9152" stroke-width="0.53"/>
<circle cx="448.3" cy="644.1" r="4.4" fill="url(#cyt)" stroke="#ef9152" stroke-width="0.53"/>
<circle cx="301.4" cy="664.8" r="4.4" fill="url(#cyt)" stroke="#ef9152" stroke-width="0.53"/>
<circle cx="483.0" cy="664.8" r="4.4" fill="url(#cyt)" stroke="#ef9152" stroke-width="0.53"/>
<circle cx="372.2" cy="702.2" r="4.4" fill="url(#cyt)" stroke="#ef9152" stroke-width="0.53"/>
<circle cx="416.9" cy="708.2" r="4.4" fill="url(#cyt)" stroke="#ef9152" stroke-width="0.53"/>
<circle cx="320.8" cy="724.9" r="4.4" fill="url(#cyt)" stroke="#ef9152" stroke-width="0.53"/>
<circle cx="461.0" cy="720.9" r="4.4" fill="url(#cyt)" stroke="#ef9152" stroke-width="0.53"/>
<line x1="296.3" y1="642.2" x2="302.6" y2="652.0" stroke="#262254" stroke-width="2.0"/>
<g transform="translate(292.7,636.4) rotate(-32)">
<path d="M-8.8,-2.0 A8.8,8.8 0 0 0 8.8,-2.0" fill="none" stroke="#2f2f2f" stroke-width="4.9" stroke-linecap="round"/>
</g>
<line x1="321.8" y1="626.8" x2="326.2" y2="638.2" stroke="#262254" stroke-width="2.0"/>
<g transform="translate(319.4,620.4) rotate(-20)">
<path d="M-8.8,-2.0 A8.8,8.8 0 0 0 8.8,-2.0" fill="none" stroke="#2f2f2f" stroke-width="4.9" stroke-linecap="round"/>
</g>
<line x1="451.5" y1="618.8" x2="447.7" y2="631.6" stroke="#262254" stroke-width="2.0"/>
<g transform="translate(453.6,612.4) rotate(18)">
<path d="M-8.8,-2.0 A8.8,8.8 0 0 0 8.8,-2.0" fill="none" stroke="#2f2f2f" stroke-width="4.9" stroke-linecap="round"/>
</g>
<line x1="477.4" y1="628.5" x2="469.1" y2="641.3" stroke="#262254" stroke-width="2.0"/>
<g transform="translate(480.6,622.5) rotate(28)">
<path d="M-8.8,-2.0 A8.8,8.8 0 0 0 8.8,-2.0" fill="none" stroke="#2f2f2f" stroke-width="4.9" stroke-linecap="round"/>
</g>
<line x1="348.1" y1="616.9" x2="351.4" y2="629.6" stroke="#262254" stroke-width="2.0"/>
<g transform="translate(347.5,610.1) rotate(-5)">
<circle cx="0" cy="-1.2" r="5.2" fill="#3b9a3b" stroke="#1c5a1c" stroke-width="0.6"/>
<circle cx="0" cy="-1.2" r="5.8" fill="none" stroke="#fff" stroke-width="0.7"/>
<path d="M-8.8,-2.0 A8.8,8.8 0 0 0 8.8,-2.0" fill="none" stroke="#b23c9d" stroke-width="4.9" stroke-linecap="round"/>
</g>
<line x1="374.2" y1="613.5" x2="375.8" y2="624.9" stroke="#262254" stroke-width="2.0"/>
<g transform="translate(374.2,606.7) rotate(0)">
<circle cx="0" cy="-1.2" r="5.2" fill="#3b9a3b" stroke="#1c5a1c" stroke-width="0.6"/>
<circle cx="0" cy="-1.2" r="5.8" fill="none" stroke="#fff" stroke-width="0.7"/>
<path d="M-8.8,-2.0 A8.8,8.8 0 0 0 8.8,-2.0" fill="none" stroke="#b23c9d" stroke-width="4.9" stroke-linecap="round"/>
</g>
<line x1="399.6" y1="612.9" x2="400.1" y2="623.9" stroke="#262254" stroke-width="2.0"/>
<g transform="translate(399.6,606.1) rotate(0)">
<circle cx="0" cy="-1.2" r="5.2" fill="#3b9a3b" stroke="#1c5a1c" stroke-width="0.6"/>
<circle cx="0" cy="-1.2" r="5.8" fill="none" stroke="#fff" stroke-width="0.7"/>
<path d="M-8.8,-2.0 A8.8,8.8 0 0 0 8.8,-2.0" fill="none" stroke="#b23c9d" stroke-width="4.9" stroke-linecap="round"/>
</g>
<line x1="425.0" y1="613.5" x2="423.3" y2="626.0" stroke="#262254" stroke-width="2.0"/>
<g transform="translate(425.6,606.7) rotate(5)">
<circle cx="0" cy="-1.2" r="5.2" fill="#3b9a3b" stroke="#1c5a1c" stroke-width="0.6"/>
<circle cx="0" cy="-1.2" r="5.8" fill="none" stroke="#fff" stroke-width="0.7"/>
<path d="M-8.8,-2.0 A8.8,8.8 0 0 0 8.8,-2.0" fill="none" stroke="#b23c9d" stroke-width="4.9" stroke-linecap="round"/>
</g>
<g transform="translate(526.7,560) scale(0.13355)"><path d="M130,980 C140,820 350,640 640,540 C800,490 900,472 1000,470 C1350,468 1650,620 1800,760 C1900,860 1900,1100 1820,1190 C1740,1290 1640,1330 1560,1325 C1400,1315 1200,1190 1000,1188 C800,1186 600,1310 420,1315 C250,1320 130,1170 130,980 Z" fill="url(#mgU)"/><path d="M217,956 L218,944 L219,932 L219,922 L220,912 L221,903 L223,896 L224,889 L225,883 L227,879 L229,874 L231,870 L234,866 L237,863 L240,860 L244,857 L249,855 L253,852 L258,851 L264,850 L270,850 L276,850 L282,851 L289,853 L296,855 L304,858 L311,861 L318,864 L324,867 L330,870 L336,873 L342,876 L347,879 L351,882 L356,885 L360,887 L365,890 L369,892 L373,893 L376,895 L380,896 L383,897 L386,897 L389,897 L392,896 L395,895 L398,894 L400,891 L402,889 L405,885 L406,881 L408,877 L408,871 L409,865 L409,858 L408,850 L408,842 L406,832 L405,823 L404,815 L403,806 L402,798 L402,789 L401,781 L400,774 L400,766 L400,759 L400,752 L401,745 L403,738 L405,732 L408,725 L411,719 L415,713 L419,708 L423,703 L427,698 L432,695 L436,691 L441,689 L446,687 L452,685 L457,684 L462,684 L467,683 L473,684 L478,684 L483,685 L488,687 L494,689 L499,691 L504,694 L509,698 L513,702 L518,706 L522,711 L526,716 L531,722 L535,728 L539,734 L543,740 L547,747 L550,753 L554,760 L558,767 L562,775 L566,781 L569,787 L573,793 L576,798 L579,802 L583,806 L586,810 L589,812 L592,814 L595,816 L598,816 L602,816 L605,816 L608,814 L611,812 L614,810 L617,806 L619,800 L621,794 L623,786 L624,778 L625,768 L625,756 L626,744 L626,732 L627,720 L627,708 L628,697 L630,686 L631,676 L633,666 L635,656 L637,647 L640,639 L643,631 L647,624 L651,618 L655,613 L660,608 L664,604 L670,600 L676,597 L682,594 L689,591 L696,588 L704,586 L712,583 L720,582 L729,580 L739,578 L749,576 L759,574 L770,573 L782,571 L794,569 L806,568 L818,567 L829,566 L838,566 L847,566 L855,567 L862,569 L868,571 L874,573 L879,576 L883,580 L888,584 L892,589 L897,595 L901,601 L904,607 L908,615 L911,622 L915,629 L918,636 L921,643 L925,649 L928,656 L931,663 L934,669 L937,675 L941,681 L944,686 L947,690 L951,694 L954,698 L958,701 L962,703 L966,705 L969,706 L973,707 L977,707 L981,706 L984,705 L988,703 L992,701 L995,697 L998,693 L1001,688 L1004,683 L1006,676 L1008,669 L1009,660 L1011,652 L1012,643 L1013,635 L1015,628 L1017,620 L1019,614 L1020,608 L1022,602 L1025,598 L1027,593 L1030,589 L1033,585 L1037,581 L1041,578 L1045,575 L1050,572 L1054,570 L1060,568 L1066,566 L1073,564 L1080,563 L1088,561 L1097,560 L1106,559 L1116,558 L1126,557 L1138,557 L1150,557 L1163,557 L1177,558 L1191,558 L1207,559 L1223,561 L1238,562 L1252,564 L1264,566 L1275,568 L1284,570 L1293,573 L1300,576 L1305,579 L1310,583 L1315,586 L1319,591 L1323,595 L1326,601 L1329,606 L1332,612 L1333,618 L1335,625 L1336,634 L1338,643 L1339,654 L1339,666 L1340,679 L1340,692 L1340,708 L1340,721 L1340,734 L1341,746 L1342,756 L1342,765 L1343,773 L1344,780 L1346,786 L1347,791 L1349,796 L1351,800 L1353,804 L1355,808 L1358,811 L1361,813 L1364,815 L1367,816 L1370,817 L1374,818 L1377,818 L1380,817 L1383,816 L1387,815 L1390,812 L1393,809 L1397,805 L1399,801 L1402,795 L1405,788 L1407,781 L1410,772 L1412,763 L1414,754 L1417,746 L1419,738 L1422,731 L1424,724 L1427,718 L1430,712 L1432,708 L1435,703 L1439,698 L1442,694 L1446,691 L1450,687 L1455,684 L1460,681 L1464,679 L1470,677 L1475,675 L1481,674 L1487,673 L1494,673 L1500,674 L1507,674 L1515,676 L1522,677 L1528,680 L1535,682 L1541,685 L1547,689 L1552,693 L1558,698 L1562,702 L1567,708 L1572,713 L1576,719 L1579,726 L1583,732 L1586,739 L1589,746 L1591,754 L1594,762 L1596,771 L1597,780 L1599,790 L1600,801 L1601,812 L1602,824 L1603,836 L1604,848 L1604,858 L1605,868 L1606,877 L1608,885 L1609,892 L1610,898 L1612,902 L1614,907 L1616,911 L1618,915 L1620,919 L1623,922 L1626,925 L1629,927 L1633,929 L1636,930 L1640,931 L1643,932 L1647,931 L1651,931 L1654,929 L1658,927 L1662,925 L1665,922 L1669,919 L1672,915 L1675,911 L1677,906 L1679,901 L1682,896 L1683,890 L1685,885 L1688,880 L1690,875 L1692,871 L1694,867 L1697,863 L1700,860 L1702,856 L1705,854 L1709,852 L1712,850 L1716,848 L1719,847 L1723,846 L1728,846 L1732,846 L1737,847 L1741,848 L1746,849 L1751,852 L1755,854 L1760,858 L1765,862 L1769,866 L1774,871 L1778,877 L1782,883 L1786,889 L1790,896 L1793,904 L1796,912 L1800,920 L1802,929 L1804,939 L1806,950 L1807,961 L1808,973 L1808,985 L1808,998 L1808,1012 L1807,1025 L1805,1038 L1803,1050 L1801,1062 L1798,1074 L1795,1085 L1791,1095 L1787,1105 L1782,1115 L1777,1124 L1771,1133 L1764,1142 L1757,1150 L1749,1158 L1740,1166 L1732,1174 L1722,1181 L1713,1188 L1704,1194 L1695,1201 L1685,1207 L1676,1212 L1666,1218 L1656,1222 L1647,1227 L1638,1230 L1630,1233 L1623,1236 L1616,1237 L1610,1238 L1604,1238 L1600,1238 L1595,1237 L1590,1235 L1586,1233 L1582,1231 L1579,1228 L1575,1224 L1572,1220 L1570,1216 L1567,1210 L1565,1204 L1563,1197 L1561,1189 L1560,1181 L1559,1171 L1558,1161 L1557,1149 L1556,1139 L1556,1130 L1555,1121 L1553,1113 L1552,1106 L1551,1100 L1549,1095 L1548,1091 L1546,1087 L1544,1083 L1542,1080 L1539,1077 L1536,1075 L1533,1073 L1530,1071 L1527,1069 L1523,1068 L1520,1067 L1517,1067 L1514,1067 L1510,1067 L1507,1068 L1504,1069 L1501,1070 L1498,1072 L1495,1074 L1492,1077 L1490,1079 L1488,1083 L1485,1086 L1483,1090 L1482,1095 L1480,1099 L1478,1105 L1476,1110 L1475,1116 L1474,1122 L1472,1129 L1471,1136 L1470,1144 L1469,1151 L1467,1157 L1465,1162 L1463,1168 L1460,1172 L1458,1176 L1455,1179 L1451,1181 L1448,1184 L1444,1186 L1440,1187 L1436,1189 L1432,1190 L1427,1191 L1422,1192 L1418,1193 L1412,1193 L1405,1193 L1397,1192 L1388,1191 L1378,1189 L1368,1187 L1356,1184 L1344,1181 L1332,1178 L1321,1175 L1311,1172 L1302,1169 L1293,1166 L1286,1164 L1279,1161 L1273,1159 L1268,1156 L1262,1152 L1258,1148 L1254,1144 L1250,1139 L1248,1134 L1245,1128 L1243,1122 L1241,1115 L1239,1108 L1238,1099 L1237,1091 L1235,1081 L1234,1071 L1233,1061 L1233,1049 L1232,1039 L1231,1029 L1230,1020 L1228,1012 L1227,1005 L1226,998 L1224,992 L1222,988 L1220,983 L1218,979 L1216,975 L1213,971 L1211,968 L1208,966 L1205,963 L1201,962 L1198,960 L1195,959 L1192,959 L1188,959 L1185,959 L1182,960 L1179,962 L1175,963 L1172,966 L1169,968 L1167,971 L1164,975 L1162,979 L1160,983 L1158,988 L1156,992 L1154,998 L1153,1003 L1151,1009 L1150,1016 L1148,1022 L1147,1029 L1146,1036 L1144,1044 L1143,1051 L1140,1057 L1138,1063 L1135,1069 L1131,1074 L1127,1079 L1122,1083 L1118,1087 L1111,1090 L1102,1093 L1092,1095 L1080,1097 L1067,1099 L1051,1100 L1034,1100 L1016,1100 L998,1100 L983,1099 L969,1099 L957,1098 L946,1096 L937,1095 L929,1093 L923,1092 L917,1089 L912,1086 L907,1083 L903,1079 L899,1075 L896,1070 L892,1065 L890,1060 L887,1054 L884,1047 L882,1040 L880,1032 L878,1023 L876,1014 L874,1005 L872,995 L870,985 L869,976 L867,967 L866,958 L864,950 L863,942 L861,934 L860,926 L858,919 L856,913 L853,907 L851,902 L847,898 L844,894 L840,890 L835,888 L831,885 L827,884 L823,883 L819,883 L815,883 L811,884 L807,885 L803,888 L800,890 L797,894 L794,898 L791,902 L789,907 L787,913 L786,919 L784,926 L783,934 L782,942 L781,952 L780,962 L779,973 L779,985 L778,998 L777,1012 L776,1025 L775,1037 L774,1048 L773,1059 L772,1069 L770,1078 L768,1086 L767,1094 L764,1101 L761,1107 L757,1113 L752,1119 L747,1124 L741,1129 L734,1133 L726,1137 L718,1141 L708,1145 L696,1150 L684,1154 L670,1159 L655,1164 L639,1170 L621,1175 L605,1180 L591,1184 L578,1188 L566,1190 L556,1192 L548,1193 L541,1193 L535,1192 L530,1191 L526,1189 L521,1187 L518,1184 L514,1181 L511,1177 L509,1172 L507,1168 L505,1162 L504,1157 L502,1151 L501,1144 L500,1138 L499,1131 L498,1124 L497,1116 L496,1109 L496,1103 L495,1097 L494,1091 L493,1086 L492,1081 L491,1077 L490,1073 L489,1070 L487,1067 L485,1064 L483,1061 L481,1059 L478,1057 L476,1056 L472,1054 L470,1053 L467,1053 L464,1052 L461,1052 L458,1053 L455,1053 L452,1054 L450,1056 L447,1057 L445,1059 L442,1061 L440,1064 L439,1067 L437,1070 L436,1073 L434,1077 L433,1081 L432,1087 L431,1093 L429,1100 L428,1107 L427,1116 L426,1125 L424,1135 L423,1144 L421,1153 L420,1161 L418,1168 L416,1174 L414,1180 L411,1185 L409,1190 L406,1194 L403,1197 L400,1200 L397,1203 L394,1205 L390,1207 L387,1208 L383,1209 L379,1209 L374,1209 L368,1208 L362,1207 L355,1205 L348,1203 L339,1200 L331,1197 L322,1193 L314,1188 L305,1183 L297,1177 L289,1171 L281,1164 L274,1157 L266,1148 L259,1139 L253,1130 L247,1119 L242,1107 L237,1095 L233,1082 L229,1068 L226,1052 L223,1038 L221,1023 L219,1009 L218,996 L217,982 L217,969 Z" fill="#f8f0f0" stroke="#a3605c" stroke-width="14"/><path d="M130,980 C140,820 350,640 640,540 C800,490 900,472 1000,470 C1350,468 1650,620 1800,760 C1900,860 1900,1100 1820,1190 C1740,1290 1640,1330 1560,1325 C1400,1315 1200,1190 1000,1188 C800,1186 600,1310 420,1315 C250,1320 130,1170 130,980 Z" fill="none" stroke="#8a4646" stroke-width="15"/></g>
<circle cx="654.9" cy="632.8" r="4.4" fill="url(#cyt)" stroke="#ef9152" stroke-width="0.53"/>
<circle cx="600.2" cy="643.5" r="4.4" fill="url(#cyt)" stroke="#ef9152" stroke-width="0.53"/>
<circle cx="715.0" cy="644.1" r="4.4" fill="url(#cyt)" stroke="#ef9152" stroke-width="0.53"/>
<circle cx="568.1" cy="664.8" r="4.4" fill="url(#cyt)" stroke="#ef9152" stroke-width="0.53"/>
<circle cx="749.7" cy="664.8" r="4.4" fill="url(#cyt)" stroke="#ef9152" stroke-width="0.53"/>
<circle cx="638.9" cy="702.2" r="4.4" fill="url(#cyt)" stroke="#ef9152" stroke-width="0.53"/>
<circle cx="683.6" cy="708.2" r="4.4" fill="url(#cyt)" stroke="#ef9152" stroke-width="0.53"/>
<circle cx="587.5" cy="724.9" r="4.4" fill="url(#cyt)" stroke="#ef9152" stroke-width="0.53"/>
<circle cx="727.7" cy="720.9" r="4.4" fill="url(#cyt)" stroke="#ef9152" stroke-width="0.53"/>
<line x1="614.8" y1="616.9" x2="618.1" y2="629.6" stroke="#262254" stroke-width="2.0"/>
<g transform="translate(614.2,610.1) rotate(-5)">
<circle cx="0" cy="-1.2" r="5.2" fill="#e8150f" stroke="#b00000" stroke-width="0.6"/>
<circle cx="0" cy="-1.2" r="5.8" fill="none" stroke="#fff" stroke-width="0.7"/>
<path d="M-8.8,-2.0 A8.8,8.8 0 0 0 8.8,-2.0" fill="none" stroke="#b23c9d" stroke-width="4.9" stroke-linecap="round"/>
</g>
<line x1="640.9" y1="613.5" x2="642.5" y2="624.9" stroke="#262254" stroke-width="2.0"/>
<g transform="translate(640.9,606.7) rotate(0)">
<circle cx="0" cy="-1.2" r="5.2" fill="#e8150f" stroke="#b00000" stroke-width="0.6"/>
<circle cx="0" cy="-1.2" r="5.8" fill="none" stroke="#fff" stroke-width="0.7"/>
<path d="M-8.8,-2.0 A8.8,8.8 0 0 0 8.8,-2.0" fill="none" stroke="#b23c9d" stroke-width="4.9" stroke-linecap="round"/>
</g>
<line x1="666.3" y1="612.9" x2="666.8" y2="623.9" stroke="#262254" stroke-width="2.0"/>
<g transform="translate(666.3,606.1) rotate(0)">
<circle cx="0" cy="-1.2" r="5.2" fill="#e8150f" stroke="#b00000" stroke-width="0.6"/>
<circle cx="0" cy="-1.2" r="5.8" fill="none" stroke="#fff" stroke-width="0.7"/>
<path d="M-8.8,-2.0 A8.8,8.8 0 0 0 8.8,-2.0" fill="none" stroke="#b23c9d" stroke-width="4.9" stroke-linecap="round"/>
</g>
<line x1="691.7" y1="613.5" x2="690.0" y2="626.0" stroke="#262254" stroke-width="2.0"/>
<g transform="translate(692.3,606.7) rotate(5)">
<circle cx="0" cy="-1.2" r="5.2" fill="#e8150f" stroke="#b00000" stroke-width="0.6"/>
<circle cx="0" cy="-1.2" r="5.8" fill="none" stroke="#fff" stroke-width="0.7"/>
<path d="M-8.8,-2.0 A8.8,8.8 0 0 0 8.8,-2.0" fill="none" stroke="#b23c9d" stroke-width="4.9" stroke-linecap="round"/>
</g>
<g transform="translate(560.1,657.5) rotate(-43) scale(0.5)" stroke="#e06f24" stroke-width="0.9"><path d="M-8,-14 L-8,-5 Q-8,-1 -4.5,-1 L-4,0 Q0,5 4,0 L4.5,-1 Q8,-1 8,-5 L8,-14 Z" fill="#ef7e37"/><path d="M-3.2,-12 L-3.2,-3 M3.2,-12 L3.2,-3" fill="none" stroke="#e06a22" stroke-width="0.9"/><path d="M-14,-41.7 C-14,-25.7 14,-25.7 14,-41.7 Z" fill="#f5862f"/><ellipse cx="0" cy="-41.7" rx="14" ry="4.3" fill="#f9a65e"/><path d="M-30.6,-36.1 C-30.6,-8.2 -3.4000000000000004,-8.2 -3.4000000000000004,-36.1 Z" fill="#f5862f"/><ellipse cx="-17" cy="-36.1" rx="13.6" ry="4.2" fill="#f9a65e"/><path d="M3.3000000000000007,-36.1 C3.3000000000000007,-8.2 30.7,-8.2 30.7,-36.1 Z" fill="#f5862f"/><ellipse cx="17" cy="-36.1" rx="13.7" ry="4.2" fill="#f9a65e"/><path d="M-15.5,-29.6 C-15.5,-20.6 -8,-17.0 -8,-12 L8,-12 C8,-17.0 15.5,-20.6 15.5,-29.6 Z" fill="#f5862f"/><ellipse cx="0" cy="-29.6" rx="15.5" ry="4.6" fill="#f9a65e"/></g>
<g transform="translate(585.4,638.8) rotate(-22) scale(0.5)" stroke="#e06f24" stroke-width="0.9"><path d="M-8,-14 L-8,-5 Q-8,-1 -4.5,-1 L-4,0 Q0,5 4,0 L4.5,-1 Q8,-1 8,-5 L8,-14 Z" fill="#ef7e37"/><path d="M-3.2,-12 L-3.2,-3 M3.2,-12 L3.2,-3" fill="none" stroke="#e06a22" stroke-width="0.9"/><path d="M-14,-41.7 C-14,-25.7 14,-25.7 14,-41.7 Z" fill="#f5862f"/><ellipse cx="0" cy="-41.7" rx="14" ry="4.3" fill="#f9a65e"/><path d="M-30.6,-36.1 C-30.6,-8.2 -3.4000000000000004,-8.2 -3.4000000000000004,-36.1 Z" fill="#f5862f"/><ellipse cx="-17" cy="-36.1" rx="13.6" ry="4.2" fill="#f9a65e"/><path d="M3.3000000000000007,-36.1 C3.3000000000000007,-8.2 30.7,-8.2 30.7,-36.1 Z" fill="#f5862f"/><ellipse cx="17" cy="-36.1" rx="13.7" ry="4.2" fill="#f9a65e"/><path d="M-15.5,-29.6 C-15.5,-20.6 -8,-17.0 -8,-12 L8,-12 C8,-17.0 15.5,-20.6 15.5,-29.6 Z" fill="#f5862f"/><ellipse cx="0" cy="-29.6" rx="15.5" ry="4.6" fill="#f9a65e"/></g>
<g transform="translate(717.7,630.8) rotate(26) scale(0.5)" stroke="#e06f24" stroke-width="0.9"><path d="M-8,-14 L-8,-5 Q-8,-1 -4.5,-1 L-4,0 Q0,5 4,0 L4.5,-1 Q8,-1 8,-5 L8,-14 Z" fill="#ef7e37"/><path d="M-3.2,-12 L-3.2,-3 M3.2,-12 L3.2,-3" fill="none" stroke="#e06a22" stroke-width="0.9"/><path d="M-14,-41.7 C-14,-25.7 14,-25.7 14,-41.7 Z" fill="#f5862f"/><ellipse cx="0" cy="-41.7" rx="14" ry="4.3" fill="#f9a65e"/><path d="M-30.6,-36.1 C-30.6,-8.2 -3.4000000000000004,-8.2 -3.4000000000000004,-36.1 Z" fill="#f5862f"/><ellipse cx="-17" cy="-36.1" rx="13.6" ry="4.2" fill="#f9a65e"/><path d="M3.3000000000000007,-36.1 C3.3000000000000007,-8.2 30.7,-8.2 30.7,-36.1 Z" fill="#f5862f"/><ellipse cx="17" cy="-36.1" rx="13.7" ry="4.2" fill="#f9a65e"/><path d="M-15.5,-29.6 C-15.5,-20.6 -8,-17.0 -8,-12 L8,-12 C8,-17.0 15.5,-20.6 15.5,-29.6 Z" fill="#f5862f"/><ellipse cx="0" cy="-29.6" rx="15.5" ry="4.6" fill="#f9a65e"/></g>
<g transform="translate(747.0,645.5) rotate(35) scale(0.5)" stroke="#e06f24" stroke-width="0.9"><path d="M-8,-14 L-8,-5 Q-8,-1 -4.5,-1 L-4,0 Q0,5 4,0 L4.5,-1 Q8,-1 8,-5 L8,-14 Z" fill="#ef7e37"/><path d="M-3.2,-12 L-3.2,-3 M3.2,-12 L3.2,-3" fill="none" stroke="#e06a22" stroke-width="0.9"/><path d="M-14,-41.7 C-14,-25.7 14,-25.7 14,-41.7 Z" fill="#f5862f"/><ellipse cx="0" cy="-41.7" rx="14" ry="4.3" fill="#f9a65e"/><path d="M-30.6,-36.1 C-30.6,-8.2 -3.4000000000000004,-8.2 -3.4000000000000004,-36.1 Z" fill="#f5862f"/><ellipse cx="-17" cy="-36.1" rx="13.6" ry="4.2" fill="#f9a65e"/><path d="M3.3000000000000007,-36.1 C3.3000000000000007,-8.2 30.7,-8.2 30.7,-36.1 Z" fill="#f5862f"/><ellipse cx="17" cy="-36.1" rx="13.7" ry="4.2" fill="#f9a65e"/><path d="M-15.5,-29.6 C-15.5,-20.6 -8,-17.0 -8,-12 L8,-12 C8,-17.0 15.5,-20.6 15.5,-29.6 Z" fill="#f5862f"/><ellipse cx="0" cy="-29.6" rx="15.5" ry="4.6" fill="#f9a65e"/></g>
<circle cx="531.4" cy="644.1" r="5.3" fill="#3b9a3b" stroke="#1c5a1c" stroke-width="0.7"/>
<circle cx="559.4" cy="621.7" r="5.3" fill="#3b9a3b" stroke="#1c5a1c" stroke-width="0.7"/>
<circle cx="734.4" cy="601.1" r="5.3" fill="#3b9a3b" stroke="#1c5a1c" stroke-width="0.7"/>
<circle cx="773.8" cy="627.8" r="5.3" fill="#3b9a3b" stroke="#1c5a1c" stroke-width="0.7"/>
<g transform="translate(814.1,670.2) scale(0.136)"><path d="M130,980 C140,820 350,640 640,540 C800,490 900,472 1000,470 C1350,468 1650,620 1800,760 C1900,860 1900,1100 1820,1190 C1740,1290 1640,1330 1560,1325 C1400,1315 1200,1190 1000,1188 C800,1186 600,1310 420,1315 C250,1320 130,1170 130,980 Z" fill="url(#mgU)"/><path d="M217,956 L218,944 L219,932 L219,922 L220,912 L221,903 L223,896 L224,889 L225,883 L227,879 L229,874 L231,870 L234,866 L237,863 L240,860 L244,857 L249,855 L253,852 L258,851 L264,850 L270,850 L276,850 L282,851 L289,853 L296,855 L304,858 L311,861 L318,864 L324,867 L330,870 L336,873 L342,876 L347,879 L351,882 L356,885 L360,887 L365,890 L369,892 L373,893 L376,895 L380,896 L383,897 L386,897 L389,897 L392,896 L395,895 L398,894 L400,891 L402,889 L405,885 L406,881 L408,877 L408,871 L409,865 L409,858 L408,850 L408,842 L406,832 L405,823 L404,815 L403,806 L402,798 L402,789 L401,781 L400,774 L400,766 L400,759 L400,752 L401,745 L403,738 L405,732 L408,725 L411,719 L415,713 L419,708 L423,703 L427,698 L432,695 L436,691 L441,689 L446,687 L452,685 L457,684 L462,684 L467,683 L473,684 L478,684 L483,685 L488,687 L494,689 L499,691 L504,694 L509,698 L513,702 L518,706 L522,711 L526,716 L531,722 L535,728 L539,734 L543,740 L547,747 L550,753 L554,760 L558,767 L562,775 L566,781 L569,787 L573,793 L576,798 L579,802 L583,806 L586,810 L589,812 L592,814 L595,816 L598,816 L602,816 L605,816 L608,814 L611,812 L614,810 L617,806 L619,800 L621,794 L623,786 L624,778 L625,768 L625,756 L626,744 L626,732 L627,720 L627,708 L628,697 L630,686 L631,676 L633,666 L635,656 L637,647 L640,639 L643,631 L647,624 L651,618 L655,613 L660,608 L664,604 L670,600 L676,597 L682,594 L689,591 L696,588 L704,586 L712,583 L720,582 L729,580 L739,578 L749,576 L759,574 L770,573 L782,571 L794,569 L806,568 L818,567 L829,566 L838,566 L847,566 L855,567 L862,569 L868,571 L874,573 L879,576 L883,580 L888,584 L892,589 L897,595 L901,601 L904,607 L908,615 L911,622 L915,629 L918,636 L921,643 L925,649 L928,656 L931,663 L934,669 L937,675 L941,681 L944,686 L947,690 L951,694 L954,698 L958,701 L962,703 L966,705 L969,706 L973,707 L977,707 L981,706 L984,705 L988,703 L992,701 L995,697 L998,693 L1001,688 L1004,683 L1006,676 L1008,669 L1009,660 L1011,652 L1012,643 L1013,635 L1015,628 L1017,620 L1019,614 L1020,608 L1022,602 L1025,598 L1027,593 L1030,589 L1033,585 L1037,581 L1041,578 L1045,575 L1050,572 L1054,570 L1060,568 L1066,566 L1073,564 L1080,563 L1088,561 L1097,560 L1106,559 L1116,558 L1126,557 L1138,557 L1150,557 L1163,557 L1177,558 L1191,558 L1207,559 L1223,561 L1238,562 L1252,564 L1264,566 L1275,568 L1284,570 L1293,573 L1300,576 L1305,579 L1310,583 L1315,586 L1319,591 L1323,595 L1326,601 L1329,606 L1332,612 L1333,618 L1335,625 L1336,634 L1338,643 L1339,654 L1339,666 L1340,679 L1340,692 L1340,708 L1340,721 L1340,734 L1341,746 L1342,756 L1342,765 L1343,773 L1344,780 L1346,786 L1347,791 L1349,796 L1351,800 L1353,804 L1355,808 L1358,811 L1361,813 L1364,815 L1367,816 L1370,817 L1374,818 L1377,818 L1380,817 L1383,816 L1387,815 L1390,812 L1393,809 L1397,805 L1399,801 L1402,795 L1405,788 L1407,781 L1410,772 L1412,763 L1414,754 L1417,746 L1419,738 L1422,731 L1424,724 L1427,718 L1430,712 L1432,708 L1435,703 L1439,698 L1442,694 L1446,691 L1450,687 L1455,684 L1460,681 L1464,679 L1470,677 L1475,675 L1481,674 L1487,673 L1494,673 L1500,674 L1507,674 L1515,676 L1522,677 L1528,680 L1535,682 L1541,685 L1547,689 L1552,693 L1558,698 L1562,702 L1567,708 L1572,713 L1576,719 L1579,726 L1583,732 L1586,739 L1589,746 L1591,754 L1594,762 L1596,771 L1597,780 L1599,790 L1600,801 L1601,812 L1602,824 L1603,836 L1604,848 L1604,858 L1605,868 L1606,877 L1608,885 L1609,892 L1610,898 L1612,902 L1614,907 L1616,911 L1618,915 L1620,919 L1623,922 L1626,925 L1629,927 L1633,929 L1636,930 L1640,931 L1643,932 L1647,931 L1651,931 L1654,929 L1658,927 L1662,925 L1665,922 L1669,919 L1672,915 L1675,911 L1677,906 L1679,901 L1682,896 L1683,890 L1685,885 L1688,880 L1690,875 L1692,871 L1694,867 L1697,863 L1700,860 L1702,856 L1705,854 L1709,852 L1712,850 L1716,848 L1719,847 L1723,846 L1728,846 L1732,846 L1737,847 L1741,848 L1746,849 L1751,852 L1755,854 L1760,858 L1765,862 L1769,866 L1774,871 L1778,877 L1782,883 L1786,889 L1790,896 L1793,904 L1796,912 L1800,920 L1802,929 L1804,939 L1806,950 L1807,961 L1808,973 L1808,985 L1808,998 L1808,1012 L1807,1025 L1805,1038 L1803,1050 L1801,1062 L1798,1074 L1795,1085 L1791,1095 L1787,1105 L1782,1115 L1777,1124 L1771,1133 L1764,1142 L1757,1150 L1749,1158 L1740,1166 L1732,1174 L1722,1181 L1713,1188 L1704,1194 L1695,1201 L1685,1207 L1676,1212 L1666,1218 L1656,1222 L1647,1227 L1638,1230 L1630,1233 L1623,1236 L1616,1237 L1610,1238 L1604,1238 L1600,1238 L1595,1237 L1590,1235 L1586,1233 L1582,1231 L1579,1228 L1575,1224 L1572,1220 L1570,1216 L1567,1210 L1565,1204 L1563,1197 L1561,1189 L1560,1181 L1559,1171 L1558,1161 L1557,1149 L1556,1139 L1556,1130 L1555,1121 L1553,1113 L1552,1106 L1551,1100 L1549,1095 L1548,1091 L1546,1087 L1544,1083 L1542,1080 L1539,1077 L1536,1075 L1533,1073 L1530,1071 L1527,1069 L1523,1068 L1520,1067 L1517,1067 L1514,1067 L1510,1067 L1507,1068 L1504,1069 L1501,1070 L1498,1072 L1495,1074 L1492,1077 L1490,1079 L1488,1083 L1485,1086 L1483,1090 L1482,1095 L1480,1099 L1478,1105 L1476,1110 L1475,1116 L1474,1122 L1472,1129 L1471,1136 L1470,1144 L1469,1151 L1467,1157 L1465,1162 L1463,1168 L1460,1172 L1458,1176 L1455,1179 L1451,1181 L1448,1184 L1444,1186 L1440,1187 L1436,1189 L1432,1190 L1427,1191 L1422,1192 L1418,1193 L1412,1193 L1405,1193 L1397,1192 L1388,1191 L1378,1189 L1368,1187 L1356,1184 L1344,1181 L1332,1178 L1321,1175 L1311,1172 L1302,1169 L1293,1166 L1286,1164 L1279,1161 L1273,1159 L1268,1156 L1262,1152 L1258,1148 L1254,1144 L1250,1139 L1248,1134 L1245,1128 L1243,1122 L1241,1115 L1239,1108 L1238,1099 L1237,1091 L1235,1081 L1234,1071 L1233,1061 L1233,1049 L1232,1039 L1231,1029 L1230,1020 L1228,1012 L1227,1005 L1226,998 L1224,992 L1222,988 L1220,983 L1218,979 L1216,975 L1213,971 L1211,968 L1208,966 L1205,963 L1201,962 L1198,960 L1195,959 L1192,959 L1188,959 L1185,959 L1182,960 L1179,962 L1175,963 L1172,966 L1169,968 L1167,971 L1164,975 L1162,979 L1160,983 L1158,988 L1156,992 L1154,998 L1153,1003 L1151,1009 L1150,1016 L1148,1022 L1147,1029 L1146,1036 L1144,1044 L1143,1051 L1140,1057 L1138,1063 L1135,1069 L1131,1074 L1127,1079 L1122,1083 L1118,1087 L1111,1090 L1102,1093 L1092,1095 L1080,1097 L1067,1099 L1051,1100 L1034,1100 L1016,1100 L998,1100 L983,1099 L969,1099 L957,1098 L946,1096 L937,1095 L929,1093 L923,1092 L917,1089 L912,1086 L907,1083 L903,1079 L899,1075 L896,1070 L892,1065 L890,1060 L887,1054 L884,1047 L882,1040 L880,1032 L878,1023 L876,1014 L874,1005 L872,995 L870,985 L869,976 L867,967 L866,958 L864,950 L863,942 L861,934 L860,926 L858,919 L856,913 L853,907 L851,902 L847,898 L844,894 L840,890 L835,888 L831,885 L827,884 L823,883 L819,883 L815,883 L811,884 L807,885 L803,888 L800,890 L797,894 L794,898 L791,902 L789,907 L787,913 L786,919 L784,926 L783,934 L782,942 L781,952 L780,962 L779,973 L779,985 L778,998 L777,1012 L776,1025 L775,1037 L774,1048 L773,1059 L772,1069 L770,1078 L768,1086 L767,1094 L764,1101 L761,1107 L757,1113 L752,1119 L747,1124 L741,1129 L734,1133 L726,1137 L718,1141 L708,1145 L696,1150 L684,1154 L670,1159 L655,1164 L639,1170 L621,1175 L605,1180 L591,1184 L578,1188 L566,1190 L556,1192 L548,1193 L541,1193 L535,1192 L530,1191 L526,1189 L521,1187 L518,1184 L514,1181 L511,1177 L509,1172 L507,1168 L505,1162 L504,1157 L502,1151 L501,1144 L500,1138 L499,1131 L498,1124 L497,1116 L496,1109 L496,1103 L495,1097 L494,1091 L493,1086 L492,1081 L491,1077 L490,1073 L489,1070 L487,1067 L485,1064 L483,1061 L481,1059 L478,1057 L476,1056 L472,1054 L470,1053 L467,1053 L464,1052 L461,1052 L458,1053 L455,1053 L452,1054 L450,1056 L447,1057 L445,1059 L442,1061 L440,1064 L439,1067 L437,1070 L436,1073 L434,1077 L433,1081 L432,1087 L431,1093 L429,1100 L428,1107 L427,1116 L426,1125 L424,1135 L423,1144 L421,1153 L420,1161 L418,1168 L416,1174 L414,1180 L411,1185 L409,1190 L406,1194 L403,1197 L400,1200 L397,1203 L394,1205 L390,1207 L387,1208 L383,1209 L379,1209 L374,1209 L368,1208 L362,1207 L355,1205 L348,1203 L339,1200 L331,1197 L322,1193 L314,1188 L305,1183 L297,1177 L289,1171 L281,1164 L274,1157 L266,1148 L259,1139 L253,1130 L247,1119 L242,1107 L237,1095 L233,1082 L229,1068 L226,1052 L223,1038 L221,1023 L219,1009 L218,996 L217,982 L217,969 Z" fill="#f8f0f0" stroke="#c7a09c" stroke-width="12"/><path d="M130,980 C140,820 350,640 640,540 C800,490 900,472 1000,470 C1350,468 1650,620 1800,760 C1900,860 1900,1100 1820,1190 C1740,1290 1640,1330 1560,1325 C1400,1315 1200,1190 1000,1188 C800,1186 600,1310 420,1315 C250,1320 130,1170 130,980 Z" fill="none" stroke="#7e3a3a" stroke-width="17" stroke-dasharray="30,20"/></g>
<circle cx="888.5" cy="754.5" r="4.5" fill="url(#cyt)" stroke="#ef9152" stroke-width="0.54"/>
<circle cx="974.4" cy="821.0" r="4.5" fill="url(#cyt)" stroke="#ef9152" stroke-width="0.54"/>
<circle cx="875.7" cy="838.3" r="4.5" fill="url(#cyt)" stroke="#ef9152" stroke-width="0.54"/>
<circle cx="899.2" cy="684.7" r="4.6" fill="url(#cyt)" stroke="#ef9152" stroke-width="0.55"/>
<circle cx="1006.0" cy="678.0" r="4.6" fill="url(#cyt)" stroke="#ef9152" stroke-width="0.55"/>
<circle cx="1086.5" cy="769.3" r="4.6" fill="url(#cyt)" stroke="#ef9152" stroke-width="0.55"/>
<circle cx="798.9" cy="798.0" r="4.6" fill="url(#cyt)" stroke="#ef9152" stroke-width="0.55"/>
<circle cx="945.2" cy="848.7" r="4.6" fill="url(#cyt)" stroke="#ef9152" stroke-width="0.55"/>
<circle cx="1069.3" cy="856.4" r="4.6" fill="url(#cyt)" stroke="#ef9152" stroke-width="0.55"/>
<line x1="903.3" y1="727.1" x2="906.4" y2="742.2" stroke="#262254" stroke-width="1.84"/>
<g transform="translate(903.3,720.8) rotate(0)">
<circle cx="0" cy="-1.1" r="4.8" fill="#e8150f" stroke="#b00000" stroke-width="0.6"/>
<circle cx="0" cy="-1.1" r="5.3" fill="none" stroke="#fff" stroke-width="0.6"/>
<path d="M-8.1,-1.8 A8.1,8.1 0 0 0 8.1,-1.8" fill="none" stroke="#b23c9d" stroke-width="4.5" stroke-linecap="round"/>
</g>
<line x1="930.4" y1="722.2" x2="932.3" y2="737.2" stroke="#262254" stroke-width="1.84"/>
<g transform="translate(930.4,715.9) rotate(0)">
<circle cx="0" cy="-1.1" r="4.8" fill="#e8150f" stroke="#b00000" stroke-width="0.6"/>
<circle cx="0" cy="-1.1" r="5.3" fill="none" stroke="#fff" stroke-width="0.6"/>
<path d="M-8.1,-1.8 A8.1,8.1 0 0 0 8.1,-1.8" fill="none" stroke="#b23c9d" stroke-width="4.5" stroke-linecap="round"/>
</g>
<line x1="957.0" y1="721.4" x2="957.0" y2="736.2" stroke="#262254" stroke-width="1.84"/>
<g transform="translate(957.0,715.1) rotate(0)">
<circle cx="0" cy="-1.1" r="4.8" fill="#e8150f" stroke="#b00000" stroke-width="0.6"/>
<circle cx="0" cy="-1.1" r="5.3" fill="none" stroke="#fff" stroke-width="0.6"/>
<path d="M-8.1,-1.8 A8.1,8.1 0 0 0 8.1,-1.8" fill="none" stroke="#b23c9d" stroke-width="4.5" stroke-linecap="round"/>
</g>
<line x1="983.8" y1="723.0" x2="980.5" y2="738.2" stroke="#262254" stroke-width="1.84"/>
<g transform="translate(983.8,716.7) rotate(0)">
<circle cx="0" cy="-1.1" r="4.8" fill="#e8150f" stroke="#b00000" stroke-width="0.6"/>
<circle cx="0" cy="-1.1" r="5.3" fill="none" stroke="#fff" stroke-width="0.6"/>
<path d="M-8.1,-1.8 A8.1,8.1 0 0 0 8.1,-1.8" fill="none" stroke="#b23c9d" stroke-width="4.5" stroke-linecap="round"/>
</g>
<g transform="translate(849.0,768.5) rotate(-49) scale(0.5)" stroke="#e06f24" stroke-width="0.9"><path d="M-8,-14 L-8,-5 Q-8,-1 -4.5,-1 L-4,0 Q0,5 4,0 L4.5,-1 Q8,-1 8,-5 L8,-14 Z" fill="#ef7e37"/><path d="M-3.2,-12 L-3.2,-3 M3.2,-12 L3.2,-3" fill="none" stroke="#e06a22" stroke-width="0.9"/><path d="M-14,-41.7 C-14,-25.7 14,-25.7 14,-41.7 Z" fill="#f5862f"/><ellipse cx="0" cy="-41.7" rx="14" ry="4.3" fill="#f9a65e"/><path d="M-30.6,-36.1 C-30.6,-8.2 -3.4000000000000004,-8.2 -3.4000000000000004,-36.1 Z" fill="#f5862f"/><ellipse cx="-17" cy="-36.1" rx="13.6" ry="4.2" fill="#f9a65e"/><path d="M3.3000000000000007,-36.1 C3.3000000000000007,-8.2 30.7,-8.2 30.7,-36.1 Z" fill="#f5862f"/><ellipse cx="17" cy="-36.1" rx="13.7" ry="4.2" fill="#f9a65e"/><path d="M-15.5,-29.6 C-15.5,-20.6 -8,-17.0 -8,-12 L8,-12 C8,-17.0 15.5,-20.6 15.5,-29.6 Z" fill="#f5862f"/><ellipse cx="0" cy="-29.6" rx="15.5" ry="4.6" fill="#f9a65e"/></g>
<g transform="translate(875.3,751.2) rotate(-22) scale(0.5)" stroke="#e06f24" stroke-width="0.9"><path d="M-8,-14 L-8,-5 Q-8,-1 -4.5,-1 L-4,0 Q0,5 4,0 L4.5,-1 Q8,-1 8,-5 L8,-14 Z" fill="#ef7e37"/><path d="M-3.2,-12 L-3.2,-3 M3.2,-12 L3.2,-3" fill="none" stroke="#e06a22" stroke-width="0.9"/><path d="M-14,-41.7 C-14,-25.7 14,-25.7 14,-41.7 Z" fill="#f5862f"/><ellipse cx="0" cy="-41.7" rx="14" ry="4.3" fill="#f9a65e"/><path d="M-30.6,-36.1 C-30.6,-8.2 -3.4000000000000004,-8.2 -3.4000000000000004,-36.1 Z" fill="#f5862f"/><ellipse cx="-17" cy="-36.1" rx="13.6" ry="4.2" fill="#f9a65e"/><path d="M3.3000000000000007,-36.1 C3.3000000000000007,-8.2 30.7,-8.2 30.7,-36.1 Z" fill="#f5862f"/><ellipse cx="17" cy="-36.1" rx="13.7" ry="4.2" fill="#f9a65e"/><path d="M-15.5,-29.6 C-15.5,-20.6 -8,-17.0 -8,-12 L8,-12 C8,-17.0 15.5,-20.6 15.5,-29.6 Z" fill="#f5862f"/><ellipse cx="0" cy="-29.6" rx="15.5" ry="4.6" fill="#f9a65e"/></g>
<g transform="translate(1009.3,742.2) rotate(23) scale(0.5)" stroke="#e06f24" stroke-width="0.9"><path d="M-8,-14 L-8,-5 Q-8,-1 -4.5,-1 L-4,0 Q0,5 4,0 L4.5,-1 Q8,-1 8,-5 L8,-14 Z" fill="#ef7e37"/><path d="M-3.2,-12 L-3.2,-3 M3.2,-12 L3.2,-3" fill="none" stroke="#e06a22" stroke-width="0.9"/><path d="M-14,-41.7 C-14,-25.7 14,-25.7 14,-41.7 Z" fill="#f5862f"/><ellipse cx="0" cy="-41.7" rx="14" ry="4.3" fill="#f9a65e"/><path d="M-30.6,-36.1 C-30.6,-8.2 -3.4000000000000004,-8.2 -3.4000000000000004,-36.1 Z" fill="#f5862f"/><ellipse cx="-17" cy="-36.1" rx="13.6" ry="4.2" fill="#f9a65e"/><path d="M3.3000000000000007,-36.1 C3.3000000000000007,-8.2 30.7,-8.2 30.7,-36.1 Z" fill="#f5862f"/><ellipse cx="17" cy="-36.1" rx="13.7" ry="4.2" fill="#f9a65e"/><path d="M-15.5,-29.6 C-15.5,-20.6 -8,-17.0 -8,-12 L8,-12 C8,-17.0 15.5,-20.6 15.5,-29.6 Z" fill="#f5862f"/><ellipse cx="0" cy="-29.6" rx="15.5" ry="4.6" fill="#f9a65e"/></g>
<g transform="translate(1039.7,757.0) rotate(36) scale(0.5)" stroke="#e06f24" stroke-width="0.9"><path d="M-8,-14 L-8,-5 Q-8,-1 -4.5,-1 L-4,0 Q0,5 4,0 L4.5,-1 Q8,-1 8,-5 L8,-14 Z" fill="#ef7e37"/><path d="M-3.2,-12 L-3.2,-3 M3.2,-12 L3.2,-3" fill="none" stroke="#e06a22" stroke-width="0.9"/><path d="M-14,-41.7 C-14,-25.7 14,-25.7 14,-41.7 Z" fill="#f5862f"/><ellipse cx="0" cy="-41.7" rx="14" ry="4.3" fill="#f9a65e"/><path d="M-30.6,-36.1 C-30.6,-8.2 -3.4000000000000004,-8.2 -3.4000000000000004,-36.1 Z" fill="#f5862f"/><ellipse cx="-17" cy="-36.1" rx="13.6" ry="4.2" fill="#f9a65e"/><path d="M3.3000000000000007,-36.1 C3.3000000000000007,-8.2 30.7,-8.2 30.7,-36.1 Z" fill="#f5862f"/><ellipse cx="17" cy="-36.1" rx="13.7" ry="4.2" fill="#f9a65e"/><path d="M-15.5,-29.6 C-15.5,-20.6 -8,-17.0 -8,-12 L8,-12 C8,-17.0 15.5,-20.6 15.5,-29.6 Z" fill="#f5862f"/><ellipse cx="0" cy="-29.6" rx="15.5" ry="4.6" fill="#f9a65e"/></g>
<circle cx="817.8" cy="755.3" r="5.3" fill="#3b9a3b" stroke="#1c5a1c" stroke-width="0.7"/>
<circle cx="846.6" cy="732.3" r="5.3" fill="#3b9a3b" stroke="#1c5a1c" stroke-width="0.7"/>
<circle cx="1026.5" cy="711.3" r="5.3" fill="#3b9a3b" stroke="#1c5a1c" stroke-width="0.7"/>
<circle cx="1066.8" cy="738.0" r="5.3" fill="#3b9a3b" stroke="#1c5a1c" stroke-width="0.7"/>
<line x1="318.0" y1="736.0" x2="443.0" y2="779.0" stroke="#777" stroke-width="1.0" stroke-dasharray="2.2,2.2"/>
<line x1="497.0" y1="729.0" x2="462.0" y2="771.0" stroke="#777" stroke-width="1.0" stroke-dasharray="2.2,2.2"/>
<line x1="598.0" y1="737.0" x2="713.0" y2="780.0" stroke="#777" stroke-width="1.0" stroke-dasharray="2.2,2.2"/>
<line x1="770.0" y1="722.0" x2="738.0" y2="778.0" stroke="#777" stroke-width="1.0" stroke-dasharray="2.2,2.2"/>
<line x1="833.0" y1="787.0" x2="759.0" y2="858.0" stroke="#777" stroke-width="1.0" stroke-dasharray="2.2,2.2"/>
<line x1="1030.0" y1="851.0" x2="767.0" y2="875.0" stroke="#777" stroke-width="1.0" stroke-dasharray="2.2,2.2"/>
<circle cx="28.8" cy="1052.1" r="8" fill="#3b9a3b" stroke="#1c5a1c" stroke-width="1"/>
<text x="43.3" y="1061.0" font-size="20.5">BIM</text>
<line x1="121.5" y1="1045.0" x2="121.5" y2="1086.5" stroke="#2c2560" stroke-width="2.6"/>
<path d="M108.0,1030.5 A13.5,13.5 0 0 0 135.0,1030.5" fill="none" stroke="#b23c9d" stroke-width="5.5" stroke-linecap="round"/>
<text x="136.8" y="1061.0" font-size="20.5">BCL-2-like proteins</text>
<line x1="341.3" y1="1045.0" x2="341.3" y2="1082.5" stroke="#2c2560" stroke-width="2.6"/>
<path d="M327.8,1029.5 A13.5,13.5 0 0 0 354.8,1029.5" fill="none" stroke="#303030" stroke-width="5.5" stroke-linecap="round"/>
<text x="356.6" y="1061.0" font-size="20.5">BAX/BAK (inactives)</text>
<circle cx="566" cy="1053.4" r="8.8" fill="#e8150f"/>
<text x="587.6" y="1060.5" font-size="20.5">BH3 mimetic</text>
<g transform="translate(741.0,1071.0) rotate(0) scale(1.0)" stroke="#e06f24" stroke-width="0.9"><path d="M-8,-32.2 L-8,-5 Q-8,-1 -4.5,-1 L-4,2 Q0,5 4,2 L4.5,-1 Q8,-1 8,-5 L8,-32.2 Z" fill="#ef7e37"/><path d="M-3.2,-30.2 L-3.2,-3 M3.2,-30.2 L3.2,-3" fill="none" stroke="#e06a22" stroke-width="0.9"/><path d="M-14,-59.9 C-14,-43.9 14,-43.9 14,-59.9 Z" fill="#f5862f"/><ellipse cx="0" cy="-59.9" rx="14" ry="4.3" fill="#f9a65e"/><path d="M-30.6,-54.3 C-30.6,-26.4 -3.4000000000000004,-26.4 -3.4000000000000004,-54.3 Z" fill="#f5862f"/><ellipse cx="-17" cy="-54.3" rx="13.6" ry="4.2" fill="#f9a65e"/><path d="M3.3000000000000007,-54.3 C3.3000000000000007,-26.4 30.7,-26.4 30.7,-54.3 Z" fill="#f5862f"/><ellipse cx="17" cy="-54.3" rx="13.7" ry="4.2" fill="#f9a65e"/><path d="M-15.5,-47.8 C-15.5,-38.8 -8,-35.2 -8,-30.2 L8,-30.2 C8,-35.2 15.5,-38.8 15.5,-47.8 Z" fill="#f5862f"/><ellipse cx="0" cy="-47.8" rx="15.5" ry="4.6" fill="#f9a65e"/></g>
<text x="759.6" y="1060.5" font-size="20.5">BAX/BAK (actives)</text>
<circle cx="951.4" cy="1052.0" r="9.4" fill="url(#cyt)" stroke="#ef9152" stroke-width="1.13"/>
<text x="974.0" y="1060.5" font-size="20.5">Cyt</text>
<text x="24.0" y="36.4" font-size="47.5" font-weight="bold">a</text>
<text x="1199.5" y="34.8" font-size="47.5" font-weight="bold">b</text>
<text x="24.0" y="1181.3" font-size="47.5" font-weight="bold">c</text>
<text x="718.0" y="1182.0" font-size="47.5" font-weight="bold">d</text>
<line x1="153.3" y1="111.0" x2="153.3" y2="423.2" stroke="#000" stroke-width="3"/>
<line x1="140.4" y1="421.7" x2="618.0" y2="421.7" stroke="#000" stroke-width="3"/>
<line x1="140.4" y1="421.7" x2="153.3" y2="421.7" stroke="#000" stroke-width="2.6"/>
<text x="135.2" y="430.0" font-size="23.3" text-anchor="end">0</text>
<line x1="140.4" y1="390.8" x2="153.3" y2="390.8" stroke="#000" stroke-width="2.6"/>
<text x="135.2" y="399.1" font-size="23.3" text-anchor="end">10</text>
<line x1="140.4" y1="359.9" x2="153.3" y2="359.9" stroke="#000" stroke-width="2.6"/>
<text x="135.2" y="368.2" font-size="23.3" text-anchor="end">20</text>
<line x1="140.4" y1="328.9" x2="153.3" y2="328.9" stroke="#000" stroke-width="2.6"/>
<text x="135.2" y="337.2" font-size="23.3" text-anchor="end">30</text>
<line x1="140.4" y1="298.0" x2="153.3" y2="298.0" stroke="#000" stroke-width="2.6"/>
<text x="135.2" y="306.3" font-size="23.3" text-anchor="end">40</text>
<line x1="140.4" y1="267.1" x2="153.3" y2="267.1" stroke="#000" stroke-width="2.6"/>
<text x="135.2" y="275.4" font-size="23.3" text-anchor="end">50</text>
<line x1="140.4" y1="236.2" x2="153.3" y2="236.2" stroke="#000" stroke-width="2.6"/>
<text x="135.2" y="244.5" font-size="23.3" text-anchor="end">60</text>
<line x1="140.4" y1="205.3" x2="153.3" y2="205.3" stroke="#000" stroke-width="2.6"/>
<text x="135.2" y="213.6" font-size="23.3" text-anchor="end">70</text>
<line x1="140.4" y1="174.3" x2="153.3" y2="174.3" stroke="#000" stroke-width="2.6"/>
<text x="135.2" y="182.6" font-size="23.3" text-anchor="end">80</text>
<line x1="140.4" y1="143.4" x2="153.3" y2="143.4" stroke="#000" stroke-width="2.6"/>
<text x="135.2" y="151.7" font-size="23.3" text-anchor="end">90</text>
<line x1="140.4" y1="112.5" x2="153.3" y2="112.5" stroke="#000" stroke-width="2.6"/>
<text x="135.2" y="120.8" font-size="23.3" text-anchor="end">100</text>
<line x1="153.3" y1="421.7" x2="153.3" y2="434.0" stroke="#000" stroke-width="3"/>
<line x1="307.8" y1="421.7" x2="307.8" y2="434.0" stroke="#000" stroke-width="3"/>
<line x1="462.3" y1="421.7" x2="462.3" y2="434.0" stroke="#000" stroke-width="3"/>
<line x1="616.8" y1="421.7" x2="616.8" y2="434.0" stroke="#000" stroke-width="3"/>
<line x1="199.8" y1="421.7" x2="199.8" y2="429.5" stroke="#000" stroke-width="2.4"/>
<line x1="227.0" y1="421.7" x2="227.0" y2="429.5" stroke="#000" stroke-width="2.4"/>
<line x1="246.3" y1="421.7" x2="246.3" y2="429.5" stroke="#000" stroke-width="2.4"/>
<line x1="261.3" y1="421.7" x2="261.3" y2="429.5" stroke="#000" stroke-width="2.4"/>
<line x1="273.5" y1="421.7" x2="273.5" y2="429.5" stroke="#000" stroke-width="2.4"/>
<line x1="283.9" y1="421.7" x2="283.9" y2="429.5" stroke="#000" stroke-width="2.4"/>
<line x1="292.8" y1="421.7" x2="292.8" y2="429.5" stroke="#000" stroke-width="2.4"/>
<line x1="300.7" y1="421.7" x2="300.7" y2="429.5" stroke="#000" stroke-width="2.4"/>
<line x1="354.3" y1="421.7" x2="354.3" y2="429.5" stroke="#000" stroke-width="2.4"/>
<line x1="381.5" y1="421.7" x2="381.5" y2="429.5" stroke="#000" stroke-width="2.4"/>
<line x1="400.8" y1="421.7" x2="400.8" y2="429.5" stroke="#000" stroke-width="2.4"/>
<line x1="415.8" y1="421.7" x2="415.8" y2="429.5" stroke="#000" stroke-width="2.4"/>
<line x1="428.0" y1="421.7" x2="428.0" y2="429.5" stroke="#000" stroke-width="2.4"/>
<line x1="438.4" y1="421.7" x2="438.4" y2="429.5" stroke="#000" stroke-width="2.4"/>
<line x1="447.3" y1="421.7" x2="447.3" y2="429.5" stroke="#000" stroke-width="2.4"/>
<line x1="455.2" y1="421.7" x2="455.2" y2="429.5" stroke="#000" stroke-width="2.4"/>
<line x1="508.8" y1="421.7" x2="508.8" y2="429.5" stroke="#000" stroke-width="2.4"/>
<line x1="536.0" y1="421.7" x2="536.0" y2="429.5" stroke="#000" stroke-width="2.4"/>
<line x1="555.3" y1="421.7" x2="555.3" y2="429.5" stroke="#000" stroke-width="2.4"/>
<line x1="570.3" y1="421.7" x2="570.3" y2="429.5" stroke="#000" stroke-width="2.4"/>
<line x1="582.5" y1="421.7" x2="582.5" y2="429.5" stroke="#000" stroke-width="2.4"/>
<line x1="592.9" y1="421.7" x2="592.9" y2="429.5" stroke="#000" stroke-width="2.4"/>
<line x1="601.8" y1="421.7" x2="601.8" y2="429.5" stroke="#000" stroke-width="2.4"/>
<line x1="609.7" y1="421.7" x2="609.7" y2="429.5" stroke="#000" stroke-width="2.4"/>
<text x="153.3" y="461.0" font-size="22" text-anchor="middle">0.01</text>
<text x="307.8" y="461.0" font-size="22" text-anchor="middle">0.1</text>
<text x="462.3" y="461.0" font-size="22" text-anchor="middle">1</text>
<text x="616.8" y="461.0" font-size="22" text-anchor="middle">10</text>
<text x="408.3" y="511.0" font-size="26" font-weight="bold" text-anchor="middle">BIM peptide&#160; [&#956;mol/L]</text>
<text transform="translate(67.5,263.0) rotate(-90)" font-size="26" font-weight="bold" text-anchor="middle">Cytochrome c retained (%)</text>
<path d="M153.3,186.7 L199.7,192.6 L203.5,193.4 L207.4,194.2 L211.2,195.1 L215.1,196.2 L219.0,197.3 L222.8,198.7 L226.7,200.1 L230.6,201.7 L234.4,203.5 L238.3,205.5 L242.1,207.7 L246.0,210.2 L249.9,212.9 L253.7,215.8 L257.6,219.0 L261.4,222.5 L265.3,226.3 L269.2,230.4 L273.0,234.7 L276.9,239.4 L280.8,244.4 L284.6,249.7 L288.5,255.2 L292.4,260.9 L296.2,266.9 L300.1,273.0 L303.9,279.3 L307.8,285.6 L311.7,292.0 L315.5,298.4 L319.4,304.8 L323.2,311.0 L327.1,317.1 L331.0,323.0 L334.8,328.7 L338.7,334.1 L342.6,339.3 L346.4,344.2 L350.3,348.8 L354.1,353.0 L358.0,357.0 L361.9,360.7 L365.7,364.1 L369.6,367.3 L373.5,370.1 L377.3,372.7 L381.2,375.1 L385.1,377.2 L388.9,379.2 L392.8,380.9 L396.6,382.5 L400.5,383.9 L404.4,385.1 L408.2,386.3 L412.1,387.3 L415.9,388.2 L419.8,389.0 L423.7,389.7 L427.5,390.4 L431.4,390.9 L435.3,391.4 L439.1,391.9 L443.0,392.3 L446.9,392.7 L450.7,393.0 L454.6,393.2 L458.4,393.5 L462.3,393.7 L466.2,393.9 L470.0,394.1 L473.9,394.2 L477.8,394.4 L481.6,394.5 L485.5,394.6 L489.3,394.7 L493.2,394.8 L497.1,394.9 L500.9,394.9 L504.8,395.0 L508.6,395.0 L512.5,395.1 L516.4,395.1 L520.2,395.1 L524.1,395.2 L528.0,395.2 L531.8,395.2 L535.7,395.3 L539.5,395.3 L543.4,395.3 L547.3,395.3 L551.1,395.3 L555.0,395.3 L558.9,395.3 L562.7,395.3 L566.6,395.4 L570.5,395.4 L574.3,395.4 L578.2,395.4 L582.0,395.4 L585.9,395.4 L589.8,395.4 L593.6,395.4 L597.5,395.4 L601.4,395.4 L605.2,395.4 L609.1,395.4 L612.9,395.4 L616.8,395.4" fill="none" stroke="#00d0b6" stroke-width="1.6" stroke-dasharray="5,3"/>
<path d="M153.3,182.1 L199.7,229.3 L203.5,233.8 L207.4,238.6 L211.2,243.7 L215.1,249.0 L219.0,254.6 L222.8,260.4 L226.7,266.4 L230.6,272.7 L234.4,279.0 L238.3,285.5 L242.1,292.1 L246.0,298.6 L249.9,305.2 L253.7,311.7 L257.6,318.1 L261.4,324.3 L265.3,330.4 L269.2,336.2 L273.0,341.8 L276.9,347.2 L280.8,352.3 L284.6,357.1 L288.5,361.6 L292.4,365.8 L296.2,369.7 L300.1,373.4 L303.9,376.7 L307.8,379.8 L311.7,382.7 L315.5,385.3 L319.4,387.7 L323.2,389.8 L327.1,391.8 L331.0,393.6 L334.8,395.2 L338.7,396.7 L342.6,398.0 L346.4,399.2 L350.3,400.2 L354.1,401.2 L358.0,402.0 L361.9,402.8 L365.7,403.5 L369.6,404.1 L373.5,404.7 L377.3,405.2 L381.2,405.6 L385.1,406.0 L388.9,406.4 L392.8,406.7 L396.6,407.0 L400.5,407.2 L404.4,407.5 L408.2,407.7 L412.1,407.9 L415.9,408.0 L419.8,408.2 L423.7,408.3 L427.5,408.4 L431.4,408.5 L435.3,408.6 L439.1,408.7 L443.0,408.7 L446.9,408.8 L450.7,408.9 L454.6,408.9 L458.4,409.0 L462.3,409.0 L466.2,409.0 L470.0,409.1 L473.9,409.1 L477.8,409.1 L481.6,409.1 L485.5,409.2 L489.3,409.2 L493.2,409.2 L497.1,409.2 L500.9,409.2 L504.8,409.2 L508.6,409.2 L512.5,409.3 L516.4,409.3 L520.2,409.3 L524.1,409.3 L528.0,409.3 L531.8,409.3 L535.7,409.3 L539.5,409.3 L543.4,409.3 L547.3,409.3 L551.1,409.3 L555.0,409.3 L558.9,409.3 L562.7,409.3 L566.6,409.3 L570.5,409.3 L574.3,409.3 L578.2,409.3 L582.0,409.3 L585.9,409.3 L589.8,409.3 L593.6,409.3 L597.5,409.3 L601.4,409.3 L605.2,409.3 L609.1,409.3 L612.9,409.3 L616.8,409.3" fill="none" stroke="#a8285f" stroke-width="1.6" stroke-dasharray="5,3"/>
<line x1="227.0" y1="220.7" x2="227.0" y2="183.6" stroke="#00d0b6" stroke-width="1.6"/>
<line x1="223.4" y1="220.7" x2="230.6" y2="220.7" stroke="#00d0b6" stroke-width="1.7"/>
<line x1="223.4" y1="183.6" x2="230.6" y2="183.6" stroke="#00d0b6" stroke-width="1.7"/>
<circle cx="227.0" cy="203.7" r="6.2" fill="#00d0b6"/>
<line x1="307.8" y1="301.1" x2="307.8" y2="269.6" stroke="#00d0b6" stroke-width="1.6"/>
<line x1="304.2" y1="301.1" x2="311.4" y2="301.1" stroke="#00d0b6" stroke-width="1.7"/>
<line x1="304.2" y1="269.6" x2="311.4" y2="269.6" stroke="#00d0b6" stroke-width="1.7"/>
<circle cx="307.8" cy="285.7" r="6.2" fill="#00d0b6"/>
<line x1="381.5" y1="389.2" x2="381.5" y2="363.9" stroke="#00d0b6" stroke-width="1.6"/>
<line x1="377.9" y1="389.2" x2="385.1" y2="389.2" stroke="#00d0b6" stroke-width="1.7"/>
<line x1="377.9" y1="363.9" x2="385.1" y2="363.9" stroke="#00d0b6" stroke-width="1.7"/>
<circle cx="381.5" cy="376.9" r="6.2" fill="#00d0b6"/>
<line x1="462.3" y1="400.1" x2="462.3" y2="384.0" stroke="#00d0b6" stroke-width="1.6"/>
<line x1="458.7" y1="400.1" x2="465.9" y2="400.1" stroke="#00d0b6" stroke-width="1.7"/>
<line x1="458.7" y1="384.0" x2="465.9" y2="384.0" stroke="#00d0b6" stroke-width="1.7"/>
<circle cx="462.3" cy="392.3" r="6.2" fill="#00d0b6"/>
<line x1="536.0" y1="401.6" x2="536.0" y2="382.1" stroke="#00d0b6" stroke-width="1.6"/>
<line x1="532.4" y1="401.6" x2="539.6" y2="401.6" stroke="#00d0b6" stroke-width="1.7"/>
<line x1="532.4" y1="382.1" x2="539.6" y2="382.1" stroke="#00d0b6" stroke-width="1.7"/>
<circle cx="536.0" cy="392.3" r="6.2" fill="#00d0b6"/>
<line x1="616.8" y1="403.1" x2="616.8" y2="387.7" stroke="#00d0b6" stroke-width="1.6"/>
<line x1="613.2" y1="403.1" x2="620.4" y2="403.1" stroke="#00d0b6" stroke-width="1.7"/>
<line x1="613.2" y1="387.7" x2="620.4" y2="387.7" stroke="#00d0b6" stroke-width="1.7"/>
<circle cx="616.8" cy="395.4" r="6.2" fill="#00d0b6"/>
<line x1="227.0" y1="285.0" x2="227.0" y2="247.0" stroke="#bc4873" stroke-width="1.6"/>
<line x1="223.4" y1="285.0" x2="230.6" y2="285.0" stroke="#bc4873" stroke-width="1.7"/>
<line x1="223.4" y1="247.0" x2="230.6" y2="247.0" stroke="#bc4873" stroke-width="1.7"/>
<rect x="220.8" y="260.9" width="12.4" height="12.4" fill="#bc4873" stroke="none" stroke-width="0"/>
<line x1="307.8" y1="393.3" x2="307.8" y2="364.5" stroke="#bc4873" stroke-width="1.6"/>
<line x1="304.2" y1="393.3" x2="311.4" y2="393.3" stroke="#bc4873" stroke-width="1.7"/>
<line x1="304.2" y1="364.5" x2="311.4" y2="364.5" stroke="#bc4873" stroke-width="1.7"/>
<rect x="301.6" y="373.8" width="12.4" height="12.4" fill="#bc4873" stroke="none" stroke-width="0"/>
<rect x="375.3" y="400.0" width="12.4" height="12.4" fill="#bc4873" stroke="none" stroke-width="0"/>
<rect x="456.1" y="400.7" width="12.4" height="12.4" fill="#bc4873" stroke="none" stroke-width="0"/>
<rect x="529.8" y="403.1" width="12.4" height="12.4" fill="#bc4873" stroke="none" stroke-width="0"/>
<rect x="610.6" y="403.1" width="12.4" height="12.4" fill="#bc4873" stroke="none" stroke-width="0"/>
<text x="168.0" y="171.4" font-size="27.3" font-weight="bold" font-style="italic" fill="#00d0b6">FASN<tspan font-size="16" dy="-10.5">+</tspan></text>
<text x="163.5" y="383.7" font-size="26" font-weight="bold" font-style="italic" fill="#bc4873">FASN-KO</text>
<text x="292.8" y="340.7" font-size="26.3" text-anchor="middle" fill="#ff0000" font-family="'Liberation Serif', serif">&#916;</text>
<line x1="307.6" y1="309.0" x2="307.6" y2="356.0" stroke="#ff0000" stroke-width="3"/>
<path d="M307.6,303.1 L303.2,311.3 L312,311.3 Z" fill="#ff0000" stroke="none" stroke-width="1"/>
<path d="M307.6,362.8 L303.2,354.1 L312,354.1 Z" fill="#ff0000" stroke="none" stroke-width="1"/>
<text transform="translate(428.2,320.6) rotate(-37.5)" font-size="23.3" font-weight="bold" font-style="italic" fill="#00d0b6">HAP1 FASN<tspan font-size="15" dy="-9.5">+</tspan></text>
<text transform="translate(455.4,338.8) rotate(-38.5)" font-size="23.5" font-weight="bold" font-style="italic" fill="#bc4873">HAP1 FASN-KO</text>
<defs><filter id="bl" x="-20%" y="-50%" width="140%" height="200%"><feGaussianBlur stdDeviation="1.1"/></filter></defs>
<rect x="487.3" y="87.8" width="133.0" height="74.6" fill="#f3f3f3" stroke="#000" stroke-width="2.7"/>
<rect x="487.3" y="170.0" width="132.0" height="43.6" fill="#f0f0f0" stroke="#000" stroke-width="2.7"/>
<path d="M508,118 C514,116 520,119 526,118.5 C532,118 536,115 541,111 C543.5,117 543.5,126 541.5,131.5 C536,129.5 531,128.5 525,129.5 C519,130.5 513,131 508.5,130 C506,126 506,121 508,118 Z" fill="#050505" stroke="none" stroke-width="1" filter="url(#bl)"/>
<path d="M511,131 L539,131 L541,158 L513,158 Z" fill="#e4e4e4" stroke="none" stroke-width="1" filter="url(#bl)" opacity="0.3"/>
<path d="M511,186 C525,184 537,185 548,185.5 L548,192.5 C536,193.5 524,192.5 511,193.5 Z" fill="#0a0a0a" stroke="none" stroke-width="1" filter="url(#bl)"/>
<path d="M554,185 C568,183.5 582,184.5 596,184.5 L596,191.5 C582,192.5 568,191.5 554,193 Z" fill="#0a0a0a" stroke="none" stroke-width="1" filter="url(#bl)"/>
<text x="458.4" y="131.2" font-size="22.8" font-weight="bold" text-anchor="end">FASN</text>
<path d="M469.5,115.4 L485.5,123.4 L469.5,131.4 Z" fill="#000" stroke="none" stroke-width="1"/>
<text x="454.3" y="198.6" font-size="22.6" font-weight="bold" text-anchor="end">&#946;-actin</text>
<path d="M466.5,183.5 L482.5,191.5 L466.5,199.5 Z" fill="#000" stroke="none" stroke-width="1"/>
<line x1="741.0" y1="93.3" x2="741.0" y2="381.3" stroke="#000" stroke-width="3"/>
<line x1="729.0" y1="379.8" x2="931.0" y2="379.8" stroke="#000" stroke-width="3"/>
<line x1="729.0" y1="379.8" x2="741.0" y2="379.8" stroke="#000" stroke-width="3"/>
<text x="724.5" y="387.4" font-size="21.5" text-anchor="end">0</text>
<line x1="734.5" y1="353.9" x2="741.0" y2="353.9" stroke="#000" stroke-width="3"/>
<line x1="729.0" y1="327.9" x2="741.0" y2="327.9" stroke="#000" stroke-width="3"/>
<text x="724.5" y="335.5" font-size="21.5" text-anchor="end">20</text>
<line x1="734.5" y1="301.9" x2="741.0" y2="301.9" stroke="#000" stroke-width="3"/>
<line x1="729.0" y1="276.0" x2="741.0" y2="276.0" stroke="#000" stroke-width="3"/>
<text x="724.5" y="283.6" font-size="21.5" text-anchor="end">40</text>
<line x1="734.5" y1="250.1" x2="741.0" y2="250.1" stroke="#000" stroke-width="3"/>
<line x1="729.0" y1="224.1" x2="741.0" y2="224.1" stroke="#000" stroke-width="3"/>
<text x="724.5" y="231.7" font-size="21.5" text-anchor="end">60</text>
<line x1="734.5" y1="198.2" x2="741.0" y2="198.2" stroke="#000" stroke-width="3"/>
<line x1="729.0" y1="172.2" x2="741.0" y2="172.2" stroke="#000" stroke-width="3"/>
<text x="724.5" y="179.8" font-size="21.5" text-anchor="end">80</text>
<line x1="734.5" y1="146.2" x2="741.0" y2="146.2" stroke="#000" stroke-width="3"/>
<line x1="729.0" y1="120.3" x2="741.0" y2="120.3" stroke="#000" stroke-width="3"/>
<text x="724.5" y="127.9" font-size="21.5" text-anchor="end">100</text>
<line x1="734.5" y1="94.3" x2="741.0" y2="94.3" stroke="#000" stroke-width="3"/>
<line x1="741.0" y1="120.3" x2="931.0" y2="120.3" stroke="#000" stroke-width="1.3" stroke-dasharray="4.2,2.6"/>
<line x1="795.3" y1="161.8" x2="795.3" y2="115.1" stroke="#000" stroke-width="1.5"/>
<line x1="787.8" y1="115.1" x2="802.8" y2="115.1" stroke="#000" stroke-width="1.5"/>
<rect x="769.3" y="161.8" width="52.2" height="218.0" fill="#00d0b6" stroke="#000" stroke-width="1.6"/>
<line x1="877.0" y1="357.7" x2="877.0" y2="355.1" stroke="#000" stroke-width="1.5"/>
<line x1="869.5" y1="355.1" x2="884.5" y2="355.1" stroke="#000" stroke-width="1.8"/>
<rect x="851.0" y="357.7" width="52.4" height="22.1" fill="#bc4873" stroke="#000" stroke-width="1.8"/>
<text x="755.0" y="103.8" font-size="26.3">100% = <tspan font-size="23">&#916;</tspan>% <tspan font-style="italic">FASN-KO</tspan></text>
<text transform="translate(676.0,236.6) rotate(-90)" font-size="26" font-weight="bold" text-anchor="middle">&#916; priming</text>
<text transform="translate(808.5,403.5) rotate(-38)" font-size="26" font-weight="bold" font-style="italic" text-anchor="end" fill="#00d0b6">FASN<tspan font-size="15" dy="-10">+</tspan><tspan dy="10"> + C75</tspan></text>
<text transform="translate(885.5,400.5) rotate(-37.5)" font-size="26.5" font-weight="bold" font-style="italic" text-anchor="end" fill="#bc4873">FASN-KO + C75</text>
<line x1="1435.0" y1="136.8" x2="1435.0" y2="448.6" stroke="#000" stroke-width="3"/>
<line x1="1421.5" y1="447.1" x2="1799.0" y2="447.1" stroke="#000" stroke-width="3"/>
<line x1="1421.5" y1="447.1" x2="1435.0" y2="447.1" stroke="#000" stroke-width="3"/>
<text x="1415.6" y="455.7" font-size="24" text-anchor="end">0</text>
<line x1="1421.5" y1="402.9" x2="1435.0" y2="402.9" stroke="#000" stroke-width="3"/>
<text x="1415.6" y="411.5" font-size="24" text-anchor="end">10</text>
<line x1="1421.5" y1="358.8" x2="1435.0" y2="358.8" stroke="#000" stroke-width="3"/>
<text x="1415.6" y="367.4" font-size="24" text-anchor="end">20</text>
<line x1="1421.5" y1="314.6" x2="1435.0" y2="314.6" stroke="#000" stroke-width="3"/>
<text x="1415.6" y="323.2" font-size="24" text-anchor="end">30</text>
<line x1="1421.5" y1="270.5" x2="1435.0" y2="270.5" stroke="#000" stroke-width="3"/>
<text x="1415.6" y="279.1" font-size="24" text-anchor="end">40</text>
<line x1="1421.5" y1="226.3" x2="1435.0" y2="226.3" stroke="#000" stroke-width="3"/>
<text x="1415.6" y="234.9" font-size="24" text-anchor="end">50</text>
<line x1="1421.5" y1="182.1" x2="1435.0" y2="182.1" stroke="#000" stroke-width="3"/>
<text x="1415.6" y="190.7" font-size="24" text-anchor="end">60</text>
<line x1="1421.5" y1="138.0" x2="1435.0" y2="138.0" stroke="#000" stroke-width="3"/>
<text x="1415.6" y="146.6" font-size="24" text-anchor="end">70</text>
<text x="1444.5" y="156.5" font-size="26.3" font-weight="bold">BT-474</text>
<line x1="1477.5" y1="426.3" x2="1477.5" y2="416.2" stroke="#000" stroke-width="1.5"/>
<line x1="1471.2" y1="416.2" x2="1483.8" y2="416.2" stroke="#000" stroke-width="1.5"/>
<rect x="1456.7" y="426.3" width="41.6" height="20.8" fill="#fff" stroke="#000" stroke-width="1.5"/>
<line x1="1533.3" y1="430.8" x2="1533.3" y2="425.9" stroke="#000" stroke-width="1.5"/>
<line x1="1527.0" y1="425.9" x2="1539.6" y2="425.9" stroke="#000" stroke-width="1.5"/>
<rect x="1512.7" y="430.8" width="41.3" height="16.3" fill="#f96b6b" stroke="#000" stroke-width="1.5"/>
<line x1="1589.2" y1="391.5" x2="1589.2" y2="376.9" stroke="#000" stroke-width="1.5"/>
<line x1="1582.9" y1="376.9" x2="1595.5" y2="376.9" stroke="#000" stroke-width="1.5"/>
<rect x="1568.3" y="391.5" width="41.7" height="55.6" fill="#f6862f" stroke="#000" stroke-width="1.5"/>
<line x1="1644.9" y1="316.8" x2="1644.9" y2="298.3" stroke="#000" stroke-width="1.5"/>
<line x1="1638.6" y1="298.3" x2="1651.2" y2="298.3" stroke="#000" stroke-width="1.5"/>
<rect x="1624.3" y="316.8" width="41.2" height="130.3" fill="#f6862f" stroke="#000" stroke-width="1.5"/>
<line x1="1700.8" y1="298.3" x2="1700.8" y2="275.3" stroke="#000" stroke-width="1.5"/>
<line x1="1694.5" y1="275.3" x2="1707.0" y2="275.3" stroke="#000" stroke-width="1.5"/>
<rect x="1680.0" y="298.3" width="41.5" height="148.8" fill="#9437bf" stroke="#000" stroke-width="1.5"/>
<line x1="1756.5" y1="179.0" x2="1756.5" y2="150.3" stroke="#000" stroke-width="1.5"/>
<line x1="1750.2" y1="150.3" x2="1762.8" y2="150.3" stroke="#000" stroke-width="1.5"/>
<rect x="1736.0" y="179.0" width="41.0" height="268.1" fill="#9437bf" stroke="#000" stroke-width="1.5"/>
<path d="M1588.5,367.4 L1588.5,230.6 L1700.5,230.6 L1700.5,264" fill="none" stroke="#000" stroke-width="1.3"/>
<line x1="1687.7" y1="264.0" x2="1713.3" y2="264.0" stroke="#000" stroke-width="1.5"/>
<path d="M1643.5,287 L1643.5,106 L1754.5,106 L1754.5,139" fill="none" stroke="#000" stroke-width="1.3"/>
<line x1="1741.7" y1="139.0" x2="1767.3" y2="139.0" stroke="#000" stroke-width="1.5"/>
<text transform="translate(1661.2,236.9) scale(1,1.1)" font-size="22.5" text-anchor="middle" font-family="'Liberation Serif', serif">**</text>
<text transform="translate(1700.9,107.6) scale(1,1.1)" font-size="22.4" text-anchor="middle" font-family="'Liberation Serif', serif">**</text>
<text x="1434.0" y="490.7" font-size="22.5" font-weight="bold" text-anchor="end">C75 [&#956;g/mL]</text>
<text x="1474.0" y="494.6" font-size="22" font-weight="bold" text-anchor="middle">0</text>
<text x="1532.0" y="494.6" font-size="22" font-weight="bold" text-anchor="middle">0</text>
<text x="1586.6" y="494.6" font-size="22" font-weight="bold" text-anchor="middle">2.5</text>
<text x="1645.0" y="494.6" font-size="22" font-weight="bold" text-anchor="middle">5.0</text>
<text x="1702.5" y="494.6" font-size="22" font-weight="bold" text-anchor="middle">2.5</text>
<text x="1759.6" y="494.6" font-size="22" font-weight="bold" text-anchor="middle">5.0</text>
<text x="1434.0" y="534.6" font-size="22.5" font-weight="bold" text-anchor="end">ABT-263 [300 nmol/L]</text>
<text x="1474.0" y="532.0" font-size="22" font-weight="bold" text-anchor="middle">&#8211;</text>
<text x="1532.0" y="532.0" font-size="22" font-weight="bold" text-anchor="middle">+</text>
<text x="1586.6" y="532.0" font-size="22" font-weight="bold" text-anchor="middle">&#8211;</text>
<text x="1645.0" y="532.0" font-size="22" font-weight="bold" text-anchor="middle">&#8211;</text>
<text x="1702.5" y="532.0" font-size="22" font-weight="bold" text-anchor="middle">+</text>
<text x="1759.6" y="532.0" font-size="22" font-weight="bold" text-anchor="middle">+</text>
<line x1="1443.5" y1="628.0" x2="1443.5" y2="946.5" stroke="#000" stroke-width="3"/>
<line x1="1430.0" y1="945.0" x2="1815.0" y2="945.0" stroke="#000" stroke-width="3"/>
<line x1="1430.0" y1="945.0" x2="1443.5" y2="945.0" stroke="#000" stroke-width="3"/>
<text x="1425.4" y="953.6" font-size="24" text-anchor="end">0</text>
<line x1="1430.0" y1="905.5" x2="1443.5" y2="905.5" stroke="#000" stroke-width="3"/>
<text x="1425.4" y="914.1" font-size="24" text-anchor="end">10</text>
<line x1="1430.0" y1="866.1" x2="1443.5" y2="866.1" stroke="#000" stroke-width="3"/>
<text x="1425.4" y="874.7" font-size="24" text-anchor="end">20</text>
<line x1="1430.0" y1="826.6" x2="1443.5" y2="826.6" stroke="#000" stroke-width="3"/>
<text x="1425.4" y="835.2" font-size="24" text-anchor="end">30</text>
<line x1="1430.0" y1="787.1" x2="1443.5" y2="787.1" stroke="#000" stroke-width="3"/>
<text x="1425.4" y="795.7" font-size="24" text-anchor="end">40</text>
<line x1="1430.0" y1="747.6" x2="1443.5" y2="747.6" stroke="#000" stroke-width="3"/>
<text x="1425.4" y="756.2" font-size="24" text-anchor="end">50</text>
<line x1="1430.0" y1="708.2" x2="1443.5" y2="708.2" stroke="#000" stroke-width="3"/>
<text x="1425.4" y="716.8" font-size="24" text-anchor="end">60</text>
<line x1="1430.0" y1="668.7" x2="1443.5" y2="668.7" stroke="#000" stroke-width="3"/>
<text x="1425.4" y="677.3" font-size="24" text-anchor="end">70</text>
<line x1="1430.0" y1="629.2" x2="1443.5" y2="629.2" stroke="#000" stroke-width="3"/>
<text x="1425.4" y="637.8" font-size="24" text-anchor="end">80</text>
<text x="1460.0" y="651.6" font-size="26.3" font-weight="bold">SKBR3</text>
<line x1="1506.3" y1="902.0" x2="1506.3" y2="889.3" stroke="#000" stroke-width="1.5"/>
<line x1="1498.3" y1="889.3" x2="1514.3" y2="889.3" stroke="#000" stroke-width="1.5"/>
<rect x="1475.8" y="902.0" width="61.0" height="43.0" fill="#fff" stroke="#000" stroke-width="1.5"/>
<line x1="1588.3" y1="905.1" x2="1588.3" y2="892.9" stroke="#000" stroke-width="1.5"/>
<line x1="1580.3" y1="892.9" x2="1596.3" y2="892.9" stroke="#000" stroke-width="1.5"/>
<rect x="1557.8" y="905.1" width="61.0" height="39.9" fill="#f96b6b" stroke="#000" stroke-width="1.5"/>
<line x1="1670.6" y1="819.5" x2="1670.6" y2="798.6" stroke="#000" stroke-width="1.5"/>
<line x1="1662.6" y1="798.6" x2="1678.6" y2="798.6" stroke="#000" stroke-width="1.5"/>
<rect x="1640.2" y="819.5" width="60.8" height="125.5" fill="#f6862f" stroke="#000" stroke-width="1.5"/>
<line x1="1752.8" y1="682.1" x2="1752.8" y2="657.7" stroke="#000" stroke-width="1.5"/>
<line x1="1744.8" y1="657.7" x2="1760.8" y2="657.7" stroke="#000" stroke-width="1.5"/>
<rect x="1722.3" y="682.1" width="61.0" height="262.9" fill="#9437bf" stroke="#000" stroke-width="1.5"/>
<path d="M1670.5,785.5 L1670.5,604.7 L1752,604.7 L1752,638.5" fill="none" stroke="#000" stroke-width="1.2"/>
<line x1="1743.0" y1="638.5" x2="1761.0" y2="638.5" stroke="#000" stroke-width="1.5"/>
<text transform="translate(1711.0,605.5) scale(1,1.1)" font-size="20.7" text-anchor="middle" font-family="'Liberation Serif', serif">**</text>
<text x="1437.7" y="991.6" font-size="22.5" font-weight="bold" text-anchor="end">C75 [&#956;g/mL]</text>
<text x="1505.0" y="992.0" font-size="22" font-weight="bold" text-anchor="middle">0</text>
<text x="1588.5" y="992.0" font-size="22" font-weight="bold" text-anchor="middle">0</text>
<text x="1673.0" y="992.0" font-size="22" font-weight="bold" text-anchor="middle">5</text>
<text x="1756.5" y="992.0" font-size="22" font-weight="bold" text-anchor="middle">5</text>
<text x="1439.0" y="1029.7" font-size="22.5" font-weight="bold" text-anchor="end">ABT-263 [300 nmol/L]</text>
<text x="1505.0" y="1026.0" font-size="22" font-weight="bold" text-anchor="middle">&#8211;</text>
<text x="1588.5" y="1026.0" font-size="22" font-weight="bold" text-anchor="middle">+</text>
<text x="1673.0" y="1026.0" font-size="22" font-weight="bold" text-anchor="middle">&#8211;</text>
<text x="1756.5" y="1026.0" font-size="22" font-weight="bold" text-anchor="middle">+</text>
<line x1="198.5" y1="1214.3" x2="198.5" y2="1541.4" stroke="#000" stroke-width="3"/>
<line x1="191.2" y1="1539.9" x2="688.6" y2="1539.9" stroke="#000" stroke-width="3.5"/>
<line x1="191.2" y1="1539.9" x2="198.5" y2="1539.9" stroke="#000" stroke-width="3"/>
<text x="189.8" y="1547.1" font-size="20.8" font-weight="bold" text-anchor="end">0</text>
<line x1="191.2" y1="1493.6" x2="198.5" y2="1493.6" stroke="#000" stroke-width="3"/>
<text x="189.8" y="1500.8" font-size="20.8" font-weight="bold" text-anchor="end">10</text>
<line x1="191.2" y1="1447.2" x2="198.5" y2="1447.2" stroke="#000" stroke-width="3"/>
<text x="189.8" y="1454.4" font-size="20.8" font-weight="bold" text-anchor="end">20</text>
<line x1="191.2" y1="1400.9" x2="198.5" y2="1400.9" stroke="#000" stroke-width="3"/>
<text x="189.8" y="1408.1" font-size="20.8" font-weight="bold" text-anchor="end">30</text>
<line x1="191.2" y1="1354.5" x2="198.5" y2="1354.5" stroke="#000" stroke-width="3"/>
<text x="189.8" y="1361.7" font-size="20.8" font-weight="bold" text-anchor="end">40</text>
<line x1="191.2" y1="1308.2" x2="198.5" y2="1308.2" stroke="#000" stroke-width="3"/>
<text x="189.8" y="1315.4" font-size="20.8" font-weight="bold" text-anchor="end">50</text>
<line x1="191.2" y1="1261.9" x2="198.5" y2="1261.9" stroke="#000" stroke-width="3"/>
<text x="189.8" y="1269.1" font-size="20.8" font-weight="bold" text-anchor="end">60</text>
<line x1="191.2" y1="1215.5" x2="198.5" y2="1215.5" stroke="#000" stroke-width="3"/>
<text x="189.8" y="1222.7" font-size="20.8" font-weight="bold" text-anchor="end">70</text>
<text x="210.0" y="1228.1" font-size="23" font-weight="bold">BT-474</text>
<line x1="239.4" y1="1521.8" x2="239.4" y2="1513.0" stroke="#000" stroke-width="2.2"/>
<line x1="227.9" y1="1513.0" x2="250.9" y2="1513.0" stroke="#000" stroke-width="2.2"/>
<rect x="212.0" y="1521.8" width="54.8" height="18.1" fill="#fff" stroke="#000" stroke-width="3"/>
<line x1="321.4" y1="1498.7" x2="321.4" y2="1485.2" stroke="#000" stroke-width="2.2"/>
<line x1="309.9" y1="1485.2" x2="332.9" y2="1485.2" stroke="#000" stroke-width="2.2"/>
<rect x="294.0" y="1498.7" width="54.8" height="41.2" fill="#3e7c0c" stroke="#000" stroke-width="3"/>
<line x1="403.1" y1="1521.8" x2="403.1" y2="1514.9" stroke="#000" stroke-width="2.2"/>
<line x1="391.6" y1="1514.9" x2="414.6" y2="1514.9" stroke="#000" stroke-width="2.2"/>
<rect x="375.8" y="1521.8" width="54.6" height="18.1" fill="#f96b6b" stroke="#000" stroke-width="3"/>
<line x1="485.0" y1="1484.3" x2="485.0" y2="1469.9" stroke="#000" stroke-width="2.2"/>
<line x1="473.5" y1="1469.9" x2="496.5" y2="1469.9" stroke="#000" stroke-width="2.2"/>
<rect x="457.7" y="1484.3" width="54.7" height="55.6" fill="#f96b6b" stroke="#000" stroke-width="3"/>
<line x1="566.7" y1="1391.6" x2="566.7" y2="1369.8" stroke="#000" stroke-width="2.2"/>
<line x1="555.2" y1="1369.8" x2="578.2" y2="1369.8" stroke="#000" stroke-width="2.2"/>
<rect x="539.4" y="1391.6" width="54.6" height="148.3" fill="#7b3b05" stroke="#000" stroke-width="3"/>
<line x1="648.7" y1="1261.9" x2="648.7" y2="1238.7" stroke="#000" stroke-width="2.2"/>
<line x1="637.2" y1="1238.7" x2="660.2" y2="1238.7" stroke="#000" stroke-width="2.2"/>
<rect x="621.4" y="1261.9" width="54.6" height="278.0" fill="#7b3b05" stroke="#000" stroke-width="3"/>
<path d="M405.5,1497 L405.5,1333 L568.9,1333 L568.9,1363" fill="none" stroke="#000" stroke-width="1.2"/>
<line x1="384.0" y1="1497.0" x2="427.0" y2="1497.0" stroke="#000" stroke-width="1.5"/>
<path d="M483.5,1455.7 L483.5,1196.8 L647.2,1196.8 L647.2,1223.4" fill="none" stroke="#000" stroke-width="1.2"/>
<line x1="461.0" y1="1455.7" x2="504.5" y2="1455.7" stroke="#000" stroke-width="1.5"/>
<text transform="translate(502.5,1334.3) scale(1,1.1)" font-size="25.5" text-anchor="middle" font-family="'Liberation Serif', serif">**</text>
<text transform="translate(567.2,1197.7) scale(1,1.1)" font-size="25.7" text-anchor="middle" font-family="'Liberation Serif', serif">**</text>
<text x="204.0" y="1572.0" font-size="19.9" font-weight="bold" text-anchor="end">TVB-3166 [20 nmol/L]</text>
<text x="242.7" y="1573.5" font-size="26" font-weight="bold" text-anchor="middle">&#8211;</text>
<text x="321.0" y="1573.5" font-size="26" font-weight="bold" text-anchor="middle">+</text>
<text x="401.0" y="1573.5" font-size="26" font-weight="bold" text-anchor="middle">&#8211;</text>
<text x="486.0" y="1573.5" font-size="26" font-weight="bold" text-anchor="middle">&#8211;</text>
<text x="573.5" y="1573.5" font-size="26" font-weight="bold" text-anchor="middle">+</text>
<text x="653.7" y="1573.5" font-size="26" font-weight="bold" text-anchor="middle">+</text>
<text x="205.0" y="1612.0" font-size="20.2" font-weight="bold" text-anchor="end">ABT-199 [nmol/L]</text>
<text x="241.6" y="1612.0" font-size="25" font-weight="bold" text-anchor="middle">0</text>
<text x="320.7" y="1612.0" font-size="25" font-weight="bold" text-anchor="middle">0</text>
<text x="400.0" y="1612.0" font-size="25" font-weight="bold" text-anchor="middle">150</text>
<text x="478.0" y="1612.0" font-size="25" font-weight="bold" text-anchor="middle">300</text>
<text x="565.0" y="1612.0" font-size="25" font-weight="bold" text-anchor="middle">150</text>
<text x="643.6" y="1612.0" font-size="25" font-weight="bold" text-anchor="middle">300</text>
<text transform="translate(123.0,1377.3) rotate(-90)" font-size="23.3" font-weight="bold" text-anchor="middle">Annexin V<tspan font-size="13.5" dy="-8.5">+</tspan><tspan dy="8.5"> cells (%)</tspan></text>
<text transform="translate(1353.8,288.7) rotate(-90)" font-size="25.8" font-weight="bold" text-anchor="middle">Annexin V<tspan font-size="15" dy="-9.5">+</tspan><tspan dy="9.5"> cells (%)</tspan></text>
<text transform="translate(1364.3,788.5) rotate(-90)" font-size="25.8" font-weight="bold" text-anchor="middle">Annexin V<tspan font-size="15" dy="-9.5">+</tspan><tspan dy="9.5"> cells (%)</tspan></text>
<line x1="911.9" y1="1203.1" x2="911.9" y2="1314.3" stroke="#000" stroke-width="3"/>
<line x1="911.9" y1="1338.8" x2="911.9" y2="1501.4" stroke="#000" stroke-width="3"/>
<line x1="899.2" y1="1204.3" x2="911.9" y2="1204.3" stroke="#000" stroke-width="2.5"/>
<text x="897.5" y="1212.6" font-size="23" text-anchor="end">60</text>
<line x1="899.2" y1="1231.8" x2="911.9" y2="1231.8" stroke="#000" stroke-width="2.5"/>
<text x="897.5" y="1240.1" font-size="23" text-anchor="end">55</text>
<line x1="899.2" y1="1259.3" x2="911.9" y2="1259.3" stroke="#000" stroke-width="2.5"/>
<text x="897.5" y="1267.6" font-size="23" text-anchor="end">50</text>
<line x1="899.2" y1="1286.8" x2="911.9" y2="1286.8" stroke="#000" stroke-width="2.5"/>
<text x="897.5" y="1295.1" font-size="23" text-anchor="end">45</text>
<line x1="899.2" y1="1314.3" x2="911.9" y2="1314.3" stroke="#000" stroke-width="2.5"/>
<text x="897.5" y="1322.6" font-size="23" text-anchor="end">40</text>
<line x1="911.9" y1="1314.3" x2="916.5" y2="1314.3" stroke="#000" stroke-width="2.5"/>
<line x1="899.2" y1="1338.8" x2="911.9" y2="1338.8" stroke="#000" stroke-width="2.5"/>
<text x="897.5" y="1347.1" font-size="23" text-anchor="end">15</text>
<line x1="899.2" y1="1392.5" x2="911.9" y2="1392.5" stroke="#000" stroke-width="2.5"/>
<text x="897.5" y="1400.8" font-size="23" text-anchor="end">10</text>
<line x1="899.2" y1="1446.2" x2="911.9" y2="1446.2" stroke="#000" stroke-width="2.5"/>
<text x="897.5" y="1454.5" font-size="23" text-anchor="end">5</text>
<line x1="899.2" y1="1499.9" x2="911.9" y2="1499.9" stroke="#000" stroke-width="2.5"/>
<text x="897.5" y="1508.2" font-size="23" text-anchor="end">0</text>
<line x1="911.9" y1="1338.8" x2="916.5" y2="1338.8" stroke="#000" stroke-width="2.5"/>
<line x1="899.2" y1="1499.9" x2="1882.6" y2="1499.9" stroke="#000" stroke-width="3"/>
<text x="924.0" y="1247.3" font-size="23" font-weight="bold">BT-474</text>
<text transform="translate(844.0,1343.4) rotate(-90)" font-size="22.9" font-weight="bold" text-anchor="middle">Apoptotic cells (%)</text>
<line x1="933.6" y1="1422.6" x2="933.6" y2="1411.8" stroke="#000" stroke-width="1.5"/>
<line x1="928.1" y1="1411.8" x2="939.1" y2="1411.8" stroke="#000" stroke-width="1.5"/>
<rect x="923.5" y="1422.6" width="20.3" height="77.3" fill="#fff" stroke="#000" stroke-width="1.6"/>
<line x1="958.0" y1="1420.4" x2="958.0" y2="1410.8" stroke="#000" stroke-width="1.5"/>
<line x1="952.5" y1="1410.8" x2="963.5" y2="1410.8" stroke="#000" stroke-width="1.5"/>
<rect x="947.8" y="1420.4" width="20.3" height="79.5" fill="#fff" stroke="#000" stroke-width="1.6"/>
<line x1="1003.1" y1="1437.6" x2="1003.1" y2="1427.9" stroke="#000" stroke-width="1.5"/>
<line x1="997.6" y1="1427.9" x2="1008.6" y2="1427.9" stroke="#000" stroke-width="1.5"/>
<rect x="993.2" y="1437.6" width="19.8" height="62.3" fill="#cce011" stroke="#000" stroke-width="1.6"/>
<line x1="1027.6" y1="1439.2" x2="1027.6" y2="1433.3" stroke="#000" stroke-width="1.5"/>
<line x1="1022.1" y1="1433.3" x2="1033.1" y2="1433.3" stroke="#000" stroke-width="1.5"/>
<rect x="1017.6" y="1439.2" width="20.0" height="60.7" fill="#cce011" stroke="#000" stroke-width="1.6"/>
<line x1="1052.1" y1="1427.9" x2="1052.1" y2="1420.4" stroke="#000" stroke-width="1.5"/>
<line x1="1046.6" y1="1420.4" x2="1057.6" y2="1420.4" stroke="#000" stroke-width="1.5"/>
<rect x="1042.2" y="1427.9" width="19.7" height="72.0" fill="#cce011" stroke="#000" stroke-width="1.6"/>
<line x1="1076.7" y1="1436.5" x2="1076.7" y2="1431.2" stroke="#000" stroke-width="1.5"/>
<line x1="1071.2" y1="1431.2" x2="1082.2" y2="1431.2" stroke="#000" stroke-width="1.5"/>
<rect x="1066.8" y="1436.5" width="19.7" height="63.4" fill="#cce011" stroke="#000" stroke-width="1.6"/>
<line x1="1101.0" y1="1427.4" x2="1101.0" y2="1424.2" stroke="#000" stroke-width="1.5"/>
<line x1="1095.5" y1="1424.2" x2="1106.5" y2="1424.2" stroke="#000" stroke-width="1.5"/>
<rect x="1091.0" y="1427.4" width="20.0" height="72.5" fill="#cce011" stroke="#000" stroke-width="1.6"/>
<line x1="1125.7" y1="1418.3" x2="1125.7" y2="1411.8" stroke="#000" stroke-width="1.5"/>
<line x1="1120.2" y1="1411.8" x2="1131.2" y2="1411.8" stroke="#000" stroke-width="1.5"/>
<rect x="1115.7" y="1418.3" width="20.0" height="81.6" fill="#cce011" stroke="#000" stroke-width="1.6"/>
<line x1="1170.8" y1="1408.6" x2="1170.8" y2="1389.3" stroke="#000" stroke-width="1.5"/>
<line x1="1165.3" y1="1389.3" x2="1176.3" y2="1389.3" stroke="#000" stroke-width="1.5"/>
<rect x="1160.8" y="1408.6" width="20.0" height="91.3" fill="#cce011" stroke="#000" stroke-width="1.6"/>
<line x1="1195.2" y1="1423.6" x2="1195.2" y2="1412.9" stroke="#000" stroke-width="1.5"/>
<line x1="1189.8" y1="1412.9" x2="1200.8" y2="1412.9" stroke="#000" stroke-width="1.5"/>
<rect x="1185.4" y="1423.6" width="19.7" height="76.3" fill="#cce011" stroke="#000" stroke-width="1.6"/>
<line x1="1219.7" y1="1425.3" x2="1219.7" y2="1422.0" stroke="#000" stroke-width="1.5"/>
<line x1="1214.2" y1="1422.0" x2="1225.2" y2="1422.0" stroke="#000" stroke-width="1.5"/>
<rect x="1209.7" y="1425.3" width="20.0" height="74.6" fill="#cce011" stroke="#000" stroke-width="1.6"/>
<line x1="1244.3" y1="1436.5" x2="1244.3" y2="1432.2" stroke="#000" stroke-width="1.5"/>
<line x1="1238.8" y1="1432.2" x2="1249.8" y2="1432.2" stroke="#000" stroke-width="1.5"/>
<rect x="1234.3" y="1436.5" width="20.0" height="63.4" fill="#cce011" stroke="#000" stroke-width="1.6"/>
<line x1="1268.6" y1="1427.4" x2="1268.6" y2="1424.2" stroke="#000" stroke-width="1.5"/>
<line x1="1263.1" y1="1424.2" x2="1274.1" y2="1424.2" stroke="#000" stroke-width="1.5"/>
<rect x="1258.6" y="1427.4" width="20.0" height="72.5" fill="#cce011" stroke="#000" stroke-width="1.6"/>
<line x1="1293.2" y1="1426.3" x2="1293.2" y2="1422.0" stroke="#000" stroke-width="1.5"/>
<line x1="1287.7" y1="1422.0" x2="1298.7" y2="1422.0" stroke="#000" stroke-width="1.5"/>
<rect x="1283.2" y="1426.3" width="20.0" height="73.6" fill="#cce011" stroke="#000" stroke-width="1.6"/>
<line x1="1338.2" y1="1463.4" x2="1338.2" y2="1454.8" stroke="#000" stroke-width="1.5"/>
<line x1="1332.7" y1="1454.8" x2="1343.7" y2="1454.8" stroke="#000" stroke-width="1.5"/>
<rect x="1328.1" y="1463.4" width="20.2" height="36.5" fill="#3f60d6" stroke="#000" stroke-width="1.6"/>
<line x1="1362.5" y1="1436.5" x2="1362.5" y2="1408.6" stroke="#000" stroke-width="1.5"/>
<line x1="1357.0" y1="1408.6" x2="1368.0" y2="1408.6" stroke="#000" stroke-width="1.5"/>
<rect x="1352.6" y="1436.5" width="19.9" height="63.4" fill="#3f60d6" stroke="#000" stroke-width="1.6"/>
<line x1="1387.0" y1="1456.4" x2="1387.0" y2="1445.1" stroke="#000" stroke-width="1.5"/>
<line x1="1381.5" y1="1445.1" x2="1392.5" y2="1445.1" stroke="#000" stroke-width="1.5"/>
<rect x="1377.0" y="1456.4" width="20.0" height="43.5" fill="#3f60d6" stroke="#000" stroke-width="1.6"/>
<line x1="1411.7" y1="1444.6" x2="1411.7" y2="1433.3" stroke="#000" stroke-width="1.5"/>
<line x1="1406.2" y1="1433.3" x2="1417.2" y2="1433.3" stroke="#000" stroke-width="1.5"/>
<rect x="1401.7" y="1444.6" width="19.9" height="55.3" fill="#3f60d6" stroke="#000" stroke-width="1.6"/>
<line x1="1436.3" y1="1437.6" x2="1436.3" y2="1429.0" stroke="#000" stroke-width="1.5"/>
<line x1="1430.8" y1="1429.0" x2="1441.8" y2="1429.0" stroke="#000" stroke-width="1.5"/>
<rect x="1426.3" y="1437.6" width="20.0" height="62.3" fill="#3f60d6" stroke="#000" stroke-width="1.6"/>
<line x1="1460.5" y1="1446.7" x2="1460.5" y2="1442.4" stroke="#000" stroke-width="1.5"/>
<line x1="1455.0" y1="1442.4" x2="1466.0" y2="1442.4" stroke="#000" stroke-width="1.5"/>
<rect x="1450.6" y="1446.7" width="19.9" height="53.2" fill="#3f60d6" stroke="#000" stroke-width="1.6"/>
<line x1="1505.4" y1="1433.8" x2="1505.4" y2="1423.6" stroke="#000" stroke-width="1.5"/>
<line x1="1499.9" y1="1423.6" x2="1510.9" y2="1423.6" stroke="#000" stroke-width="1.5"/>
<rect x="1495.6" y="1433.8" width="19.7" height="66.1" fill="#3f60d6" stroke="#000" stroke-width="1.6"/>
<line x1="1530.1" y1="1446.7" x2="1530.1" y2="1430.1" stroke="#000" stroke-width="1.5"/>
<line x1="1524.6" y1="1430.1" x2="1535.6" y2="1430.1" stroke="#000" stroke-width="1.5"/>
<rect x="1520.2" y="1446.7" width="19.8" height="53.2" fill="#3f60d6" stroke="#000" stroke-width="1.6"/>
<line x1="1554.5" y1="1439.2" x2="1554.5" y2="1425.3" stroke="#000" stroke-width="1.5"/>
<line x1="1549.0" y1="1425.3" x2="1560.0" y2="1425.3" stroke="#000" stroke-width="1.5"/>
<rect x="1544.5" y="1439.2" width="19.9" height="60.7" fill="#3f60d6" stroke="#000" stroke-width="1.6"/>
<line x1="1579.0" y1="1444.1" x2="1579.0" y2="1439.8" stroke="#000" stroke-width="1.5"/>
<line x1="1573.5" y1="1439.8" x2="1584.5" y2="1439.8" stroke="#000" stroke-width="1.5"/>
<rect x="1569.1" y="1444.1" width="19.9" height="55.8" fill="#3f60d6" stroke="#000" stroke-width="1.6"/>
<line x1="1603.5" y1="1439.2" x2="1603.5" y2="1434.4" stroke="#000" stroke-width="1.5"/>
<line x1="1598.0" y1="1434.4" x2="1609.0" y2="1434.4" stroke="#000" stroke-width="1.5"/>
<rect x="1593.4" y="1439.2" width="20.1" height="60.7" fill="#3f60d6" stroke="#000" stroke-width="1.6"/>
<line x1="1628.1" y1="1401.6" x2="1628.1" y2="1391.4" stroke="#000" stroke-width="1.5"/>
<line x1="1622.6" y1="1391.4" x2="1633.6" y2="1391.4" stroke="#000" stroke-width="1.5"/>
<rect x="1618.0" y="1401.6" width="20.2" height="98.3" fill="#3f60d6" stroke="#000" stroke-width="1.6"/>
<line x1="1767.1" y1="1423.6" x2="1767.1" y2="1418.3" stroke="#000" stroke-width="1.5"/>
<line x1="1761.6" y1="1418.3" x2="1772.6" y2="1418.3" stroke="#000" stroke-width="1.5"/>
<rect x="1757.0" y="1423.6" width="20.2" height="76.3" fill="#c84f97" stroke="#000" stroke-width="1.6"/>
<line x1="1836.7" y1="1444.1" x2="1836.7" y2="1436.5" stroke="#000" stroke-width="1.5"/>
<line x1="1831.2" y1="1436.5" x2="1842.2" y2="1436.5" stroke="#000" stroke-width="1.5"/>
<rect x="1826.6" y="1444.1" width="20.2" height="55.8" fill="#c84f97" stroke="#000" stroke-width="1.6"/>
<line x1="1791.5" y1="1274.1" x2="1791.5" y2="1251.0" stroke="#000" stroke-width="1.5"/>
<line x1="1786.0" y1="1251.0" x2="1797.0" y2="1251.0" stroke="#000" stroke-width="1.5"/>
<path d="M1781.2,1314.3 L1781.2,1274.1499999999999 L1801.7,1274.1499999999999 L1801.7,1314.3" fill="#c84f97" stroke="#000" stroke-width="1.6"/>
<path d="M1781.2,1338.8000000000002 L1781.2,1499.9 L1801.7,1499.9 L1801.7,1338.8000000000002" fill="#c84f97" stroke="#000" stroke-width="1.6"/>
<line x1="1860.9" y1="1259.3" x2="1860.9" y2="1235.1" stroke="#000" stroke-width="1.5"/>
<line x1="1855.4" y1="1235.1" x2="1866.4" y2="1235.1" stroke="#000" stroke-width="1.5"/>
<path d="M1850.5,1314.3 L1850.5,1259.3 L1871.3,1259.3 L1871.3,1314.3" fill="#c84f97" stroke="#000" stroke-width="1.6"/>
<path d="M1850.5,1338.8000000000002 L1850.5,1499.9 L1871.3,1499.9 L1871.3,1338.8000000000002" fill="#c84f97" stroke="#000" stroke-width="1.6"/>
<text transform="translate(1791.2,1256.1) scale(1,1.1)" font-size="21.9" text-anchor="middle" font-family="'Liberation Serif', serif">**</text>
<text transform="translate(1859.1,1236.0) scale(1,1.1)" font-size="21.9" text-anchor="middle" font-family="'Liberation Serif', serif">**</text>
<text x="1036.0" y="1366.0" font-size="22">Mono-targeted&#160; <tspan font-weight="bold">MCL-1</tspan></text>
<line x1="992.0" y1="1373.2" x2="1301.6" y2="1373.2" stroke="#000" stroke-width="1.3"/>
<text x="1371.0" y="1365.7" font-size="22">Mono-targeted&#160; <tspan font-weight="bold">BCL-X<tspan font-size="14" dy="5">L</tspan></tspan></text>
<line x1="1326.7" y1="1373.0" x2="1636.3" y2="1373.0" stroke="#000" stroke-width="1.3"/>
<text x="1725.2" y="1192.7" font-size="22">Mono-targeted&#160; <tspan font-weight="bold">BCL-2</tspan></text>
<line x1="1812.4" y1="1206.3" x2="1897.6" y2="1206.3" stroke="#000" stroke-width="1.3"/>
<text x="910.0" y="1538.0" font-size="20.1" font-weight="bold" text-anchor="end">TVB-3664 [nmol/L]</text>
<text x="910.0" y="1572.0" font-size="20.1" font-weight="bold" text-anchor="end">S63845 [&#956;mol/L]</text>
<text x="910.0" y="1607.0" font-size="20.1" font-weight="bold" text-anchor="end">A1331852 [&#956;mol/L]</text>
<line x1="929.9" y1="1531.5" x2="939.9" y2="1531.5" stroke="#000" stroke-width="1.3"/>
<line x1="953.6" y1="1531.5" x2="963.6" y2="1531.5" stroke="#000" stroke-width="1.3"/>
<line x1="997.4" y1="1531.5" x2="1007.4" y2="1531.5" stroke="#000" stroke-width="1.3"/>
<line x1="1025.8" y1="1531.5" x2="1035.8" y2="1531.5" stroke="#000" stroke-width="1.3"/>
<line x1="1050.0" y1="1531.5" x2="1060.0" y2="1531.5" stroke="#000" stroke-width="1.3"/>
<line x1="1073.9" y1="1531.5" x2="1083.9" y2="1531.5" stroke="#000" stroke-width="1.3"/>
<line x1="1097.4" y1="1531.5" x2="1107.4" y2="1531.5" stroke="#000" stroke-width="1.3"/>
<line x1="1117.7" y1="1531.5" x2="1127.7" y2="1531.5" stroke="#000" stroke-width="1.3"/>
<line x1="1346.8" y1="1531.5" x2="1356.8" y2="1531.5" stroke="#000" stroke-width="1.3"/>
<line x1="1371.0" y1="1531.5" x2="1381.0" y2="1531.5" stroke="#000" stroke-width="1.3"/>
<line x1="1395.0" y1="1531.5" x2="1405.0" y2="1531.5" stroke="#000" stroke-width="1.3"/>
<line x1="1419.0" y1="1531.5" x2="1429.0" y2="1531.5" stroke="#000" stroke-width="1.3"/>
<line x1="1443.3" y1="1531.5" x2="1453.3" y2="1531.5" stroke="#000" stroke-width="1.3"/>
<line x1="1466.8" y1="1531.5" x2="1476.8" y2="1531.5" stroke="#000" stroke-width="1.3"/>
<text x="1170.8" y="1536.8" font-size="18" text-anchor="middle">20</text>
<text x="1194.3" y="1536.8" font-size="18" text-anchor="middle">20</text>
<text x="1222.7" y="1536.8" font-size="18" text-anchor="middle">20</text>
<text x="1246.5" y="1536.8" font-size="18" text-anchor="middle">20</text>
<text x="1274.9" y="1536.8" font-size="18" text-anchor="middle">20</text>
<text x="1298.4" y="1536.8" font-size="18" text-anchor="middle">20</text>
<text x="1510.0" y="1536.8" font-size="18" text-anchor="middle">20</text>
<text x="1534.2" y="1536.8" font-size="18" text-anchor="middle">20</text>
<text x="1558.2" y="1536.8" font-size="18" text-anchor="middle">20</text>
<text x="1581.9" y="1536.8" font-size="18" text-anchor="middle">20</text>
<text x="1605.7" y="1536.8" font-size="18" text-anchor="middle">20</text>
<text x="1629.7" y="1536.8" font-size="18" text-anchor="middle">20</text>
<text x="1769.4" y="1536.8" font-size="18" text-anchor="middle">20</text>
<text x="1860.0" y="1536.8" font-size="18" text-anchor="middle">20</text>
<text x="1793.6" y="1536.8" font-size="18" text-anchor="middle">50</text>
<text x="1836.4" y="1536.8" font-size="18" text-anchor="middle">0</text>
<line x1="929.9" y1="1565.6" x2="939.9" y2="1565.6" stroke="#000" stroke-width="1.3"/>
<line x1="953.6" y1="1565.6" x2="963.6" y2="1565.6" stroke="#000" stroke-width="1.3"/>
<line x1="1346.8" y1="1565.6" x2="1356.8" y2="1565.6" stroke="#000" stroke-width="1.3"/>
<line x1="1371.0" y1="1565.6" x2="1381.0" y2="1565.6" stroke="#000" stroke-width="1.3"/>
<line x1="1395.0" y1="1565.6" x2="1405.0" y2="1565.6" stroke="#000" stroke-width="1.3"/>
<line x1="1419.0" y1="1565.6" x2="1429.0" y2="1565.6" stroke="#000" stroke-width="1.3"/>
<line x1="1443.3" y1="1565.6" x2="1453.3" y2="1565.6" stroke="#000" stroke-width="1.3"/>
<line x1="1466.8" y1="1565.6" x2="1476.8" y2="1565.6" stroke="#000" stroke-width="1.3"/>
<line x1="1504.5" y1="1565.6" x2="1514.5" y2="1565.6" stroke="#000" stroke-width="1.3"/>
<line x1="1529.0" y1="1565.6" x2="1539.0" y2="1565.6" stroke="#000" stroke-width="1.3"/>
<line x1="1553.0" y1="1565.6" x2="1563.0" y2="1565.6" stroke="#000" stroke-width="1.3"/>
<line x1="1577.0" y1="1565.6" x2="1587.0" y2="1565.6" stroke="#000" stroke-width="1.3"/>
<line x1="1601.0" y1="1565.6" x2="1611.0" y2="1565.6" stroke="#000" stroke-width="1.3"/>
<line x1="1625.0" y1="1565.6" x2="1635.0" y2="1565.6" stroke="#000" stroke-width="1.3"/>
<text x="1004.3" y="1571.0" font-size="18" text-anchor="middle">0.5</text>
<text x="1026.0" y="1571.0" font-size="18" text-anchor="middle">1</text>
<text x="1047.6" y="1571.0" font-size="18" text-anchor="middle">2.5</text>
<text x="1074.0" y="1571.0" font-size="18" text-anchor="middle">5</text>
<text x="1097.8" y="1571.0" font-size="18" text-anchor="middle">10</text>
<text x="1121.4" y="1571.0" font-size="18" text-anchor="middle">50</text>
<text x="1170.8" y="1571.0" font-size="18" text-anchor="middle">0.5</text>
<text x="1193.8" y="1571.0" font-size="18" text-anchor="middle">1</text>
<text x="1224.0" y="1571.0" font-size="18" text-anchor="middle">2.5</text>
<text x="1251.0" y="1571.0" font-size="18" text-anchor="middle">5</text>
<text x="1275.4" y="1571.0" font-size="18" text-anchor="middle">10</text>
<text x="1299.2" y="1571.0" font-size="18" text-anchor="middle">50</text>
<line x1="910.0" y1="1600.0" x2="920.0" y2="1600.0" stroke="#000" stroke-width="1.3"/>
<line x1="933.0" y1="1600.0" x2="943.0" y2="1600.0" stroke="#000" stroke-width="1.3"/>
<line x1="975.8" y1="1600.0" x2="985.8" y2="1600.0" stroke="#000" stroke-width="1.3"/>
<line x1="1000.1" y1="1600.0" x2="1010.1" y2="1600.0" stroke="#000" stroke-width="1.3"/>
<line x1="1024.5" y1="1600.0" x2="1034.5" y2="1600.0" stroke="#000" stroke-width="1.3"/>
<line x1="1048.0" y1="1600.0" x2="1058.0" y2="1600.0" stroke="#000" stroke-width="1.3"/>
<line x1="1073.0" y1="1600.0" x2="1083.0" y2="1600.0" stroke="#000" stroke-width="1.3"/>
<line x1="1096.6" y1="1600.0" x2="1106.6" y2="1600.0" stroke="#000" stroke-width="1.3"/>
<line x1="1144.7" y1="1600.0" x2="1154.7" y2="1600.0" stroke="#000" stroke-width="1.3"/>
<line x1="1173.0" y1="1600.0" x2="1183.0" y2="1600.0" stroke="#000" stroke-width="1.3"/>
<line x1="1201.5" y1="1600.0" x2="1211.5" y2="1600.0" stroke="#000" stroke-width="1.3"/>
<line x1="1225.8" y1="1600.0" x2="1235.8" y2="1600.0" stroke="#000" stroke-width="1.3"/>
<line x1="1249.6" y1="1600.0" x2="1259.6" y2="1600.0" stroke="#000" stroke-width="1.3"/>
<line x1="1274.5" y1="1600.0" x2="1284.5" y2="1600.0" stroke="#000" stroke-width="1.3"/>
<text x="1335.0" y="1604.0" font-size="18" text-anchor="middle">0.5</text>
<text x="1361.0" y="1604.0" font-size="18" text-anchor="middle">1</text>
<text x="1382.2" y="1604.0" font-size="18" text-anchor="middle">2.5</text>
<text x="1409.3" y="1604.0" font-size="18" text-anchor="middle">5</text>
<text x="1432.5" y="1604.0" font-size="18" text-anchor="middle">10</text>
<text x="1456.1" y="1604.0" font-size="18" text-anchor="middle">50</text>
<text x="1497.6" y="1604.0" font-size="18" text-anchor="middle">0.5</text>
<text x="1519.4" y="1604.0" font-size="18" text-anchor="middle">1</text>
<text x="1540.0" y="1604.0" font-size="18" text-anchor="middle">2.5</text>
<text x="1566.5" y="1604.0" font-size="18" text-anchor="middle">5</text>
<text x="1591.7" y="1604.0" font-size="18" text-anchor="middle">10</text>
<text x="1614.0" y="1604.0" font-size="18" text-anchor="middle">50</text>
<text x="1814.7" y="1568.8" font-size="20.2" font-weight="bold" text-anchor="end">ABT-199 [nmol/L]</text>
<text x="1833.5" y="1568.5" font-size="18" text-anchor="middle">300</text>
<text x="1867.3" y="1568.5" font-size="18" text-anchor="middle">300</text>
</svg></body></html>
